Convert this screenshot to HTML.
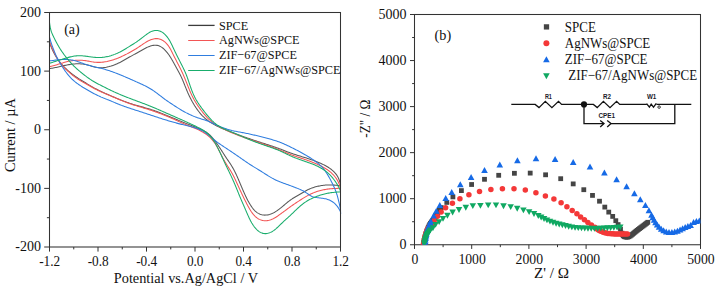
<!DOCTYPE html>
<html><head><meta charset="utf-8"><style>
html,body{margin:0;padding:0;background:#fff;}
svg{display:block;}
</style></head><body>
<svg width="721" height="288" viewBox="0 0 721 288">
<rect width="721" height="288" fill="#fff"/>
<clipPath id="ca"><rect x="49.5" y="12.5" width="291.6" height="234.5"/></clipPath>
<g clip-path="url(#ca)" fill="none" stroke-width="1.05" stroke-linejoin="round">
<path d="M49.41,68.67 L50.40,68.50 L51.38,68.33 L52.36,68.15 L53.34,67.97 L54.32,67.79 L55.30,67.60 L56.28,67.39 L57.25,67.18 L58.22,66.96 L59.20,66.74 L60.17,66.51 L61.14,66.28 L62.11,66.05 L63.08,65.81 L64.05,65.59 L65.03,65.37 L66.00,65.16 L66.98,64.96 L67.97,64.78 L68.95,64.61 L69.94,64.45 L70.93,64.31 L71.92,64.18 L72.91,64.07 L73.91,63.98 L74.90,63.90 L75.90,63.85 L76.90,63.81 L77.90,63.80 L78.89,63.81 L79.89,63.84 L80.88,63.90 L81.87,63.98 L82.86,64.09 L83.84,64.23 L84.82,64.40 L85.80,64.59 L86.77,64.81 L87.74,65.05 L88.70,65.31 L89.66,65.59 L90.62,65.87 L91.58,66.15 L92.54,66.43 L93.50,66.69 L94.46,66.93 L95.43,67.15 L96.41,67.33 L97.39,67.48 L98.37,67.59 L99.35,67.67 L100.34,67.72 L101.33,67.73 L102.31,67.70 L103.30,67.63 L104.29,67.53 L105.27,67.40 L106.25,67.24 L107.23,67.04 L108.20,66.82 L109.17,66.58 L110.14,66.31 L111.10,66.03 L112.05,65.72 L113.00,65.39 L113.94,65.05 L114.87,64.69 L115.80,64.31 L116.72,63.92 L117.64,63.51 L118.54,63.09 L119.44,62.66 L120.34,62.21 L121.22,61.74 L122.10,61.27 L122.97,60.79 L123.85,60.30 L124.71,59.81 L125.58,59.31 L126.44,58.81 L127.31,58.31 L128.17,57.82 L129.04,57.32 L129.91,56.83 L130.78,56.35 L131.65,55.86 L132.53,55.38 L133.40,54.90 L134.28,54.41 L135.16,53.93 L136.04,53.45 L136.92,52.96 L137.80,52.47 L138.69,51.98 L139.57,51.48 L140.46,50.98 L141.35,50.47 L142.23,49.97 L143.13,49.46 L144.02,48.96 L144.92,48.48 L145.82,48.01 L146.73,47.56 L147.64,47.14 L148.56,46.75 L149.48,46.39 L150.42,46.07 L151.36,45.79 L152.31,45.56 L153.26,45.39 L154.22,45.28 L155.18,45.24 L156.12,45.27 L157.06,45.38 L157.99,45.57 L158.89,45.83 L159.77,46.18 L160.63,46.60 L161.45,47.09 L162.25,47.64 L163.02,48.25 L163.77,48.91 L164.49,49.60 L165.19,50.32 L165.88,51.06 L166.54,51.83 L167.19,52.61 L167.81,53.41 L168.42,54.23 L169.01,55.05 L169.58,55.89 L170.13,56.73 L170.67,57.58 L171.20,58.44 L171.71,59.31 L172.22,60.17 L172.72,61.04 L173.22,61.92 L173.71,62.79 L174.19,63.67 L174.68,64.54 L175.16,65.42 L175.64,66.29 L176.12,67.17 L176.59,68.05 L177.07,68.92 L177.55,69.80 L178.02,70.68 L178.50,71.56 L178.97,72.43 L179.44,73.31 L179.90,74.20 L180.35,75.08 L180.80,75.98 L181.23,76.87 L181.65,77.77 L182.06,78.68 L182.46,79.60 L182.84,80.51 L183.22,81.44 L183.60,82.36 L183.97,83.29 L184.34,84.21 L184.70,85.14 L185.07,86.07 L185.44,87.00 L185.82,87.92 L186.19,88.85 L186.57,89.77 L186.96,90.69 L187.35,91.61 L187.74,92.53 L188.15,93.44 L188.56,94.35 L188.98,95.26 L189.41,96.16 L189.85,97.06 L190.29,97.95 L190.75,98.84 L191.21,99.72 L191.68,100.60 L192.16,101.48 L192.66,102.35 L193.16,103.21 L193.67,104.07 L194.19,104.92 L194.72,105.77 L195.27,106.61 L195.82,107.44 L196.38,108.27 L196.96,109.09 L197.54,109.90 L198.14,110.70 L198.75,111.49 L199.37,112.28 L200.00,113.05 L200.64,113.82 L201.30,114.57 L201.97,115.31 L202.66,116.03 L203.36,116.74 L204.08,117.43 L204.81,118.10 L205.56,118.76 L206.32,119.39 L207.10,120.01 L207.89,120.61 L208.70,121.20 L209.52,121.77 L210.35,122.32 L211.19,122.85 L212.04,123.37 L212.90,123.88 L213.76,124.37 L214.64,124.85 L215.52,125.32 L216.41,125.77 L217.31,126.22 L218.21,126.65 L219.11,127.08 L220.02,127.49 L220.94,127.90 L221.86,128.31 L222.78,128.70 L223.70,129.09 L224.62,129.48 L225.55,129.86 L226.48,130.24 L227.40,130.62 L228.33,130.99 L229.26,131.36 L230.19,131.72 L231.12,132.09 L232.05,132.45 L232.99,132.80 L233.92,133.16 L234.85,133.51 L235.79,133.86 L236.72,134.21 L237.66,134.55 L238.60,134.89 L239.53,135.23 L240.47,135.57 L241.41,135.91 L242.35,136.25 L243.29,136.58 L244.23,136.91 L245.17,137.24 L246.12,137.57 L247.06,137.90 L248.00,138.22 L248.95,138.55 L249.89,138.87 L250.84,139.19 L251.78,139.51 L252.73,139.83 L253.67,140.14 L254.62,140.46 L255.57,140.77 L256.52,141.09 L257.46,141.40 L258.41,141.71 L259.36,142.02 L260.31,142.33 L261.26,142.64 L262.21,142.95 L263.16,143.25 L264.11,143.56 L265.06,143.87 L266.01,144.17 L266.96,144.48 L267.91,144.79 L268.86,145.10 L269.81,145.41 L270.76,145.72 L271.70,146.04 L272.65,146.35 L273.60,146.67 L274.54,147.00 L275.48,147.32 L276.43,147.65 L277.37,147.98 L278.31,148.32 L279.24,148.66 L280.18,149.01 L281.11,149.36 L282.04,149.72 L282.97,150.08 L283.90,150.44 L284.83,150.81 L285.76,151.17 L286.69,151.54 L287.62,151.90 L288.55,152.25 L289.48,152.60 L290.42,152.95 L291.36,153.28 L292.30,153.61 L293.24,153.93 L294.19,154.24 L295.14,154.55 L296.09,154.86 L297.04,155.16 L297.99,155.46 L298.94,155.75 L299.90,156.05 L300.85,156.34 L301.81,156.63 L302.76,156.93 L303.72,157.22 L304.67,157.52 L305.62,157.82 L306.58,158.12 L307.53,158.43 L308.48,158.74 L309.42,159.06 L310.37,159.38 L311.31,159.71 L312.26,160.04 L313.20,160.38 L314.14,160.72 L315.07,161.08 L316.00,161.43 L316.94,161.80 L317.86,162.17 L318.79,162.56 L319.71,162.95 L320.63,163.34 L321.55,163.75 L322.46,164.17 L323.36,164.60 L324.26,165.05 L325.15,165.51 L326.03,165.98 L326.90,166.48 L327.76,167.00 L328.60,167.53 L329.43,168.10 L330.25,168.68 L331.05,169.28 L331.82,169.91 L332.58,170.56 L333.32,171.22 L334.03,171.91 L334.72,172.62 L335.38,173.35 L336.01,174.11 L336.60,174.89 L337.14,175.70 L337.64,176.53 L338.10,177.40 L338.51,178.28 L338.89,179.19 L339.24,180.11 L339.55,181.05 L339.85,182.00 L340.12,182.96 L340.38,183.92 L340.64,184.89" stroke="#585858"/>
<path d="M49.26,41.57 L49.57,42.51 L49.88,43.45 L50.21,44.38 L50.54,45.32 L50.90,46.25 L51.26,47.17 L51.64,48.09 L52.04,49.00 L52.44,49.91 L52.86,50.82 L53.29,51.72 L53.74,52.61 L54.20,53.50 L54.68,54.37 L55.17,55.24 L55.67,56.10 L56.19,56.95 L56.73,57.80 L57.28,58.63 L57.85,59.45 L58.43,60.26 L59.03,61.06 L59.65,61.84 L60.27,62.62 L60.91,63.39 L61.57,64.14 L62.23,64.89 L62.90,65.63 L63.59,66.35 L64.29,67.07 L64.99,67.78 L65.71,68.48 L66.43,69.17 L67.16,69.85 L67.90,70.52 L68.65,71.18 L69.41,71.83 L70.18,72.47 L70.95,73.10 L71.73,73.72 L72.52,74.33 L73.32,74.93 L74.12,75.53 L74.93,76.11 L75.75,76.68 L76.58,77.24 L77.41,77.80 L78.24,78.34 L79.08,78.88 L79.93,79.42 L80.77,79.95 L81.62,80.47 L82.48,80.99 L83.33,81.51 L84.19,82.03 L85.04,82.54 L85.90,83.06 L86.76,83.58 L87.61,84.09 L88.47,84.61 L89.32,85.13 L90.18,85.65 L91.03,86.16 L91.89,86.66 L92.76,87.16 L93.62,87.66 L94.50,88.14 L95.37,88.61 L96.26,89.08 L97.14,89.53 L98.03,89.98 L98.93,90.43 L99.82,90.86 L100.72,91.29 L101.63,91.72 L102.53,92.14 L103.44,92.55 L104.35,92.96 L105.27,93.37 L106.18,93.78 L107.10,94.18 L108.01,94.58 L108.93,94.98 L109.85,95.38 L110.77,95.77 L111.69,96.17 L112.60,96.57 L113.52,96.96 L114.44,97.35 L115.36,97.75 L116.28,98.14 L117.21,98.52 L118.13,98.91 L119.05,99.29 L119.98,99.66 L120.91,100.04 L121.83,100.41 L122.76,100.77 L123.69,101.13 L124.63,101.48 L125.56,101.83 L126.50,102.17 L127.44,102.51 L128.38,102.84 L129.32,103.16 L130.27,103.48 L131.22,103.79 L132.17,104.09 L133.12,104.38 L134.08,104.67 L135.04,104.95 L135.99,105.23 L136.95,105.51 L137.92,105.78 L138.88,106.05 L139.84,106.31 L140.80,106.58 L141.77,106.85 L142.73,107.11 L143.69,107.38 L144.66,107.65 L145.62,107.92 L146.58,108.19 L147.54,108.47 L148.49,108.75 L149.45,109.04 L150.40,109.34 L151.35,109.64 L152.30,109.95 L153.25,110.26 L154.19,110.58 L155.14,110.91 L156.08,111.25 L157.01,111.59 L157.95,111.94 L158.88,112.29 L159.82,112.65 L160.75,113.01 L161.68,113.38 L162.60,113.75 L163.53,114.12 L164.46,114.50 L165.38,114.87 L166.31,115.25 L167.23,115.64 L168.15,116.02 L169.07,116.40 L170.00,116.79 L170.92,117.17 L171.84,117.56 L172.76,117.94 L173.68,118.33 L174.60,118.71 L175.53,119.10 L176.45,119.48 L177.37,119.86 L178.29,120.24 L179.22,120.62 L180.14,121.00 L181.07,121.38 L181.99,121.76 L182.92,122.13 L183.84,122.51 L184.77,122.88 L185.70,123.25 L186.63,123.62 L187.56,123.98 L188.50,124.35 L189.43,124.72 L190.36,125.08 L191.29,125.45 L192.22,125.82 L193.15,126.19 L194.08,126.56 L195.01,126.94 L195.94,127.32 L196.87,127.71 L197.79,128.09 L198.71,128.49 L199.63,128.89 L200.54,129.29 L201.46,129.71 L202.36,130.13 L203.26,130.57 L204.14,131.03 L205.01,131.50 L205.86,132.00 L206.69,132.53 L207.49,133.09 L208.28,133.68 L209.03,134.30 L209.76,134.96 L210.47,135.64 L211.15,136.35 L211.82,137.08 L212.47,137.84 L213.11,138.61 L213.73,139.39 L214.34,140.19 L214.94,140.99 L215.54,141.80 L216.13,142.61 L216.72,143.43 L217.30,144.25 L217.88,145.07 L218.45,145.89 L219.02,146.72 L219.58,147.55 L220.14,148.38 L220.69,149.22 L221.24,150.05 L221.78,150.89 L222.32,151.73 L222.86,152.57 L223.40,153.42 L223.94,154.26 L224.48,155.10 L225.02,155.93 L225.57,156.77 L226.12,157.60 L226.68,158.43 L227.24,159.26 L227.80,160.08 L228.37,160.90 L228.93,161.73 L229.49,162.55 L230.04,163.38 L230.59,164.21 L231.13,165.05 L231.65,165.90 L232.16,166.75 L232.66,167.62 L233.15,168.48 L233.63,169.36 L234.10,170.24 L234.56,171.12 L235.01,172.01 L235.45,172.91 L235.88,173.81 L236.31,174.71 L236.72,175.62 L237.14,176.53 L237.54,177.44 L237.95,178.35 L238.34,179.27 L238.74,180.19 L239.13,181.11 L239.52,182.03 L239.91,182.95 L240.29,183.87 L240.68,184.79 L241.07,185.71 L241.46,186.63 L241.84,187.55 L242.23,188.47 L242.63,189.39 L243.02,190.31 L243.42,191.22 L243.83,192.14 L244.23,193.05 L244.65,193.97 L245.07,194.88 L245.49,195.79 L245.92,196.69 L246.36,197.60 L246.81,198.50 L247.27,199.40 L247.73,200.30 L248.21,201.19 L248.70,202.07 L249.20,202.95 L249.72,203.82 L250.25,204.68 L250.80,205.53 L251.37,206.37 L251.95,207.20 L252.55,208.02 L253.18,208.81 L253.83,209.58 L254.51,210.32 L255.21,211.03 L255.94,211.69 L256.70,212.31 L257.50,212.87 L258.33,213.37 L259.19,213.82 L260.08,214.20 L261.00,214.52 L261.93,214.77 L262.89,214.96 L263.85,215.07 L264.82,215.12 L265.80,215.10 L266.77,215.02 L267.74,214.88 L268.71,214.67 L269.67,214.42 L270.62,214.11 L271.55,213.75 L272.47,213.35 L273.37,212.91 L274.25,212.44 L275.13,211.93 L275.98,211.39 L276.83,210.83 L277.66,210.26 L278.48,209.66 L279.29,209.06 L280.09,208.44 L280.88,207.82 L281.67,207.18 L282.45,206.54 L283.22,205.90 L283.99,205.25 L284.75,204.60 L285.51,203.95 L286.28,203.31 L287.04,202.66 L287.81,202.03 L288.59,201.41 L289.37,200.80 L290.17,200.21 L290.98,199.64 L291.80,199.08 L292.63,198.54 L293.48,198.01 L294.33,197.50 L295.19,196.99 L296.05,196.49 L296.92,195.99 L297.78,195.50 L298.65,195.00 L299.52,194.50 L300.38,193.99 L301.24,193.48 L302.10,192.97 L302.96,192.46 L303.83,191.95 L304.69,191.45 L305.56,190.96 L306.43,190.48 L307.32,190.01 L308.21,189.57 L309.10,189.15 L310.02,188.75 L310.94,188.38 L311.87,188.03 L312.81,187.70 L313.75,187.39 L314.71,187.10 L315.67,186.83 L316.64,186.58 L317.61,186.35 L318.59,186.13 L319.57,185.93 L320.55,185.74 L321.54,185.58 L322.52,185.42 L323.51,185.29 L324.51,185.18 L325.50,185.08 L326.50,185.01 L327.49,184.96 L328.49,184.93 L329.48,184.91 L330.48,184.92 L331.48,184.95 L332.47,184.99 L333.47,185.06 L334.46,185.14 L335.46,185.24 L336.45,185.35 L337.44,185.48 L338.43,185.61 L339.42,185.75 L340.41,185.89" stroke="#585858"/>
<path d="M49.41,66.83 L50.37,66.57 L51.33,66.30 L52.29,66.03 L53.26,65.77 L54.22,65.50 L55.17,65.22 L56.13,64.94 L57.09,64.66 L58.04,64.37 L59.00,64.08 L59.95,63.79 L60.90,63.49 L61.85,63.20 L62.80,62.91 L63.75,62.62 L64.70,62.34 L65.65,62.06 L66.60,61.79 L67.55,61.54 L68.51,61.31 L69.47,61.10 L70.44,60.92 L71.42,60.76 L72.39,60.62 L73.38,60.51 L74.36,60.41 L75.35,60.34 L76.34,60.28 L77.33,60.24 L78.33,60.23 L79.32,60.23 L80.32,60.25 L81.31,60.29 L82.31,60.35 L83.30,60.43 L84.29,60.52 L85.28,60.64 L86.27,60.78 L87.26,60.94 L88.24,61.11 L89.22,61.30 L90.20,61.49 L91.17,61.67 L92.15,61.85 L93.13,62.00 L94.12,62.14 L95.10,62.24 L96.09,62.32 L97.08,62.37 L98.07,62.39 L99.06,62.39 L100.05,62.36 L101.04,62.30 L102.03,62.23 L103.02,62.12 L104.01,62.00 L105.00,61.85 L105.98,61.68 L106.96,61.50 L107.93,61.29 L108.91,61.06 L109.88,60.82 L110.84,60.56 L111.80,60.28 L112.76,59.99 L113.71,59.68 L114.65,59.36 L115.59,59.02 L116.53,58.67 L117.46,58.31 L118.38,57.93 L119.30,57.55 L120.22,57.15 L121.13,56.74 L122.03,56.32 L122.93,55.89 L123.83,55.45 L124.72,55.01 L125.61,54.55 L126.50,54.10 L127.38,53.63 L128.26,53.17 L129.14,52.70 L130.02,52.23 L130.90,51.75 L131.77,51.27 L132.64,50.78 L133.50,50.28 L134.36,49.77 L135.22,49.25 L136.07,48.73 L136.91,48.19 L137.76,47.64 L138.60,47.09 L139.44,46.52 L140.28,45.96 L141.12,45.38 L141.96,44.81 L142.81,44.23 L143.66,43.67 L144.51,43.11 L145.37,42.57 L146.24,42.04 L147.12,41.53 L148.00,41.05 L148.89,40.60 L149.80,40.19 L150.72,39.80 L151.65,39.46 L152.59,39.17 L153.54,38.93 L154.50,38.74 L155.46,38.63 L156.41,38.58 L157.36,38.61 L158.31,38.72 L159.24,38.91 L160.15,39.18 L161.04,39.53 L161.91,39.95 L162.76,40.43 L163.58,40.97 L164.37,41.57 L165.13,42.21 L165.85,42.89 L166.55,43.61 L167.21,44.36 L167.84,45.14 L168.45,45.94 L169.02,46.77 L169.56,47.62 L170.08,48.48 L170.57,49.36 L171.05,50.25 L171.51,51.14 L171.96,52.05 L172.40,52.95 L172.84,53.86 L173.28,54.76 L173.73,55.66 L174.18,56.56 L174.63,57.45 L175.09,58.34 L175.55,59.23 L176.02,60.12 L176.48,61.00 L176.94,61.89 L177.41,62.77 L177.87,63.65 L178.33,64.54 L178.78,65.42 L179.24,66.31 L179.69,67.20 L180.13,68.09 L180.57,68.99 L181.01,69.88 L181.44,70.78 L181.86,71.68 L182.28,72.59 L182.70,73.49 L183.10,74.40 L183.50,75.32 L183.90,76.23 L184.29,77.15 L184.68,78.07 L185.06,78.99 L185.44,79.91 L185.81,80.84 L186.19,81.76 L186.56,82.69 L186.92,83.62 L187.29,84.54 L187.66,85.47 L188.03,86.40 L188.40,87.32 L188.78,88.25 L189.15,89.17 L189.53,90.10 L189.92,91.02 L190.31,91.93 L190.71,92.85 L191.12,93.76 L191.54,94.67 L191.96,95.57 L192.40,96.46 L192.84,97.35 L193.30,98.24 L193.77,99.12 L194.25,99.99 L194.75,100.85 L195.26,101.70 L195.78,102.55 L196.32,103.40 L196.86,104.23 L197.41,105.06 L197.97,105.89 L198.54,106.71 L199.12,107.53 L199.70,108.34 L200.29,109.15 L200.88,109.95 L201.49,110.75 L202.09,111.55 L202.71,112.34 L203.33,113.12 L203.96,113.89 L204.61,114.66 L205.26,115.41 L205.92,116.15 L206.60,116.89 L207.28,117.61 L207.99,118.32 L208.70,119.01 L209.42,119.69 L210.16,120.35 L210.92,121.00 L211.68,121.63 L212.46,122.25 L213.26,122.85 L214.07,123.43 L214.88,123.99 L215.71,124.54 L216.55,125.08 L217.40,125.60 L218.26,126.11 L219.13,126.60 L220.01,127.09 L220.89,127.57 L221.77,128.03 L222.66,128.49 L223.56,128.94 L224.46,129.38 L225.36,129.81 L226.27,130.24 L227.17,130.66 L228.08,131.08 L229.00,131.49 L229.91,131.90 L230.82,132.30 L231.74,132.69 L232.66,133.08 L233.58,133.46 L234.50,133.84 L235.43,134.22 L236.36,134.59 L237.28,134.95 L238.21,135.31 L239.14,135.67 L240.08,136.03 L241.01,136.37 L241.95,136.72 L242.88,137.06 L243.82,137.40 L244.76,137.74 L245.70,138.07 L246.64,138.40 L247.58,138.73 L248.52,139.06 L249.47,139.38 L250.41,139.70 L251.35,140.02 L252.30,140.34 L253.24,140.66 L254.19,140.98 L255.13,141.30 L256.08,141.62 L257.03,141.93 L257.97,142.25 L258.92,142.57 L259.86,142.89 L260.81,143.21 L261.75,143.53 L262.70,143.85 L263.64,144.17 L264.59,144.49 L265.53,144.82 L266.47,145.15 L267.41,145.48 L268.35,145.81 L269.29,146.14 L270.23,146.48 L271.17,146.82 L272.11,147.16 L273.04,147.50 L273.98,147.85 L274.91,148.20 L275.85,148.55 L276.78,148.91 L277.71,149.27 L278.63,149.64 L279.56,150.00 L280.48,150.38 L281.41,150.75 L282.33,151.13 L283.25,151.52 L284.17,151.90 L285.09,152.29 L286.01,152.68 L286.93,153.06 L287.85,153.44 L288.77,153.81 L289.70,154.18 L290.63,154.54 L291.56,154.90 L292.49,155.24 L293.43,155.58 L294.37,155.91 L295.31,156.24 L296.25,156.57 L297.20,156.89 L298.14,157.21 L299.09,157.52 L300.03,157.84 L300.98,158.16 L301.92,158.47 L302.87,158.79 L303.82,159.11 L304.76,159.43 L305.70,159.76 L306.65,160.08 L307.59,160.42 L308.53,160.76 L309.46,161.10 L310.40,161.45 L311.33,161.81 L312.26,162.17 L313.19,162.54 L314.12,162.91 L315.04,163.30 L315.96,163.69 L316.88,164.09 L317.79,164.50 L318.71,164.92 L319.61,165.35 L320.52,165.79 L321.41,166.24 L322.30,166.71 L323.19,167.18 L324.06,167.67 L324.93,168.18 L325.78,168.70 L326.62,169.24 L327.45,169.80 L328.27,170.37 L329.07,170.97 L329.85,171.58 L330.62,172.22 L331.36,172.88 L332.09,173.56 L332.80,174.26 L333.48,174.98 L334.14,175.72 L334.77,176.48 L335.38,177.26 L335.96,178.06 L336.51,178.88 L337.04,179.72 L337.53,180.58 L337.99,181.45 L338.43,182.34 L338.83,183.25 L339.21,184.16 L339.57,185.09 L339.92,186.02 L340.26,186.96 L340.59,187.90" stroke="#f25555"/>
<path d="M49.26,40.57 L49.56,41.51 L49.88,42.45 L50.20,43.38 L50.54,44.31 L50.90,45.24 L51.27,46.16 L51.65,47.07 L52.05,47.98 L52.46,48.89 L52.88,49.80 L53.31,50.70 L53.75,51.60 L54.19,52.50 L54.63,53.39 L55.08,54.29 L55.54,55.18 L56.01,56.07 L56.48,56.95 L56.96,57.82 L57.46,58.69 L57.97,59.54 L58.50,60.39 L59.04,61.23 L59.59,62.05 L60.17,62.86 L60.76,63.66 L61.38,64.44 L62.01,65.21 L62.66,65.96 L63.33,66.69 L64.02,67.41 L64.72,68.12 L65.44,68.82 L66.16,69.51 L66.89,70.19 L67.62,70.87 L68.36,71.55 L69.10,72.22 L69.85,72.89 L70.60,73.55 L71.36,74.20 L72.12,74.84 L72.89,75.47 L73.68,76.09 L74.47,76.70 L75.27,77.29 L76.08,77.86 L76.90,78.43 L77.73,78.98 L78.57,79.51 L79.42,80.04 L80.27,80.56 L81.13,81.08 L81.99,81.58 L82.85,82.08 L83.72,82.58 L84.59,83.08 L85.46,83.57 L86.33,84.06 L87.20,84.56 L88.07,85.05 L88.94,85.55 L89.80,86.04 L90.67,86.54 L91.54,87.02 L92.42,87.51 L93.29,87.98 L94.18,88.45 L95.06,88.91 L95.95,89.36 L96.84,89.80 L97.74,90.24 L98.64,90.66 L99.55,91.09 L100.45,91.50 L101.36,91.91 L102.28,92.32 L103.19,92.72 L104.10,93.12 L105.02,93.52 L105.94,93.91 L106.86,94.31 L107.78,94.70 L108.70,95.09 L109.62,95.48 L110.54,95.87 L111.46,96.26 L112.38,96.65 L113.30,97.04 L114.22,97.43 L115.14,97.82 L116.06,98.21 L116.98,98.59 L117.91,98.98 L118.83,99.36 L119.75,99.74 L120.68,100.12 L121.60,100.49 L122.53,100.87 L123.46,101.23 L124.39,101.60 L125.32,101.96 L126.25,102.31 L127.19,102.66 L128.12,103.01 L129.06,103.35 L130.00,103.68 L130.94,104.01 L131.88,104.34 L132.83,104.65 L133.78,104.96 L134.73,105.27 L135.68,105.57 L136.63,105.87 L137.58,106.17 L138.54,106.47 L139.49,106.76 L140.45,107.05 L141.40,107.34 L142.36,107.62 L143.32,107.91 L144.27,108.20 L145.23,108.49 L146.18,108.78 L147.14,109.08 L148.09,109.37 L149.05,109.67 L150.00,109.97 L150.95,110.28 L151.90,110.59 L152.85,110.90 L153.79,111.22 L154.74,111.55 L155.68,111.88 L156.62,112.21 L157.56,112.55 L158.50,112.89 L159.43,113.24 L160.37,113.59 L161.30,113.95 L162.23,114.31 L163.16,114.68 L164.09,115.05 L165.01,115.42 L165.94,115.80 L166.86,116.19 L167.78,116.57 L168.70,116.96 L169.61,117.36 L170.53,117.76 L171.44,118.16 L172.35,118.57 L173.26,118.98 L174.17,119.39 L175.08,119.81 L175.99,120.22 L176.90,120.63 L177.81,121.05 L178.72,121.46 L179.63,121.87 L180.54,122.28 L181.45,122.68 L182.37,123.09 L183.28,123.48 L184.20,123.88 L185.12,124.26 L186.05,124.65 L186.98,125.02 L187.90,125.40 L188.83,125.77 L189.76,126.14 L190.69,126.51 L191.62,126.89 L192.55,127.26 L193.48,127.64 L194.40,128.03 L195.32,128.42 L196.24,128.82 L197.15,129.23 L198.06,129.64 L198.96,130.07 L199.85,130.51 L200.74,130.97 L201.63,131.44 L202.50,131.92 L203.36,132.43 L204.21,132.95 L205.05,133.49 L205.87,134.05 L206.68,134.63 L207.47,135.23 L208.24,135.86 L209.00,136.51 L209.73,137.18 L210.45,137.87 L211.14,138.58 L211.82,139.32 L212.47,140.07 L213.11,140.83 L213.72,141.62 L214.30,142.42 L214.87,143.24 L215.42,144.08 L215.95,144.92 L216.46,145.78 L216.96,146.65 L217.44,147.52 L217.92,148.40 L218.39,149.29 L218.85,150.18 L219.31,151.07 L219.76,151.96 L220.21,152.86 L220.66,153.75 L221.10,154.64 L221.56,155.54 L222.01,156.43 L222.47,157.31 L222.94,158.20 L223.42,159.07 L223.90,159.95 L224.39,160.82 L224.89,161.68 L225.40,162.54 L225.91,163.39 L226.43,164.24 L226.96,165.09 L227.49,165.94 L228.03,166.78 L228.57,167.61 L229.11,168.45 L229.65,169.29 L230.18,170.14 L230.71,170.98 L231.22,171.84 L231.72,172.70 L232.21,173.57 L232.69,174.44 L233.16,175.32 L233.61,176.20 L234.06,177.09 L234.51,177.99 L234.94,178.89 L235.37,179.79 L235.79,180.69 L236.21,181.60 L236.63,182.51 L237.05,183.42 L237.46,184.33 L237.87,185.24 L238.29,186.14 L238.70,187.05 L239.12,187.96 L239.53,188.87 L239.95,189.77 L240.37,190.68 L240.79,191.59 L241.21,192.49 L241.64,193.39 L242.06,194.30 L242.49,195.20 L242.92,196.10 L243.36,197.00 L243.80,197.90 L244.24,198.79 L244.68,199.69 L245.13,200.58 L245.58,201.47 L246.04,202.36 L246.50,203.25 L246.96,204.14 L247.44,205.03 L247.91,205.92 L248.40,206.81 L248.89,207.69 L249.40,208.57 L249.91,209.44 L250.44,210.30 L250.99,211.16 L251.55,212.01 L252.14,212.84 L252.74,213.65 L253.37,214.44 L254.03,215.20 L254.71,215.93 L255.42,216.62 L256.17,217.27 L256.95,217.88 L257.76,218.43 L258.60,218.94 L259.47,219.39 L260.36,219.78 L261.28,220.11 L262.21,220.37 L263.16,220.56 L264.12,220.68 L265.09,220.73 L266.06,220.71 L267.03,220.63 L268.01,220.48 L268.97,220.28 L269.93,220.02 L270.87,219.71 L271.80,219.36 L272.71,218.96 L273.61,218.51 L274.50,218.04 L275.37,217.53 L276.23,217.00 L277.08,216.44 L277.91,215.87 L278.73,215.28 L279.54,214.69 L280.36,214.09 L281.17,213.50 L281.98,212.91 L282.79,212.32 L283.60,211.73 L284.41,211.14 L285.21,210.55 L286.01,209.96 L286.82,209.36 L287.62,208.77 L288.42,208.18 L289.23,207.59 L290.03,207.00 L290.84,206.42 L291.66,205.84 L292.47,205.27 L293.29,204.70 L294.12,204.14 L294.95,203.58 L295.78,203.03 L296.61,202.48 L297.45,201.93 L298.29,201.39 L299.13,200.85 L299.97,200.30 L300.81,199.76 L301.65,199.22 L302.49,198.68 L303.34,198.15 L304.19,197.62 L305.04,197.10 L305.90,196.59 L306.76,196.09 L307.64,195.61 L308.51,195.13 L309.40,194.67 L310.29,194.23 L311.19,193.81 L312.10,193.40 L313.02,193.00 L313.95,192.63 L314.88,192.27 L315.81,191.92 L316.76,191.60 L317.71,191.29 L318.66,191.00 L319.62,190.73 L320.58,190.47 L321.55,190.23 L322.52,190.01 L323.50,189.80 L324.48,189.61 L325.46,189.44 L326.45,189.28 L327.44,189.14 L328.43,189.01 L329.42,188.89 L330.41,188.79 L331.41,188.70 L332.40,188.63 L333.40,188.56 L334.40,188.50 L335.39,188.45 L336.39,188.40 L337.39,188.36 L338.39,188.32 L339.39,188.29 L340.39,188.25" stroke="#f25555"/>
<path d="M49.40,60.97 L50.39,60.83 L51.38,60.69 L52.37,60.55 L53.36,60.41 L54.35,60.27 L55.34,60.14 L56.34,60.01 L57.33,59.89 L58.32,59.78 L59.32,59.68 L60.31,59.59 L61.31,59.52 L62.31,59.46 L63.31,59.43 L64.30,59.42 L65.30,59.42 L66.30,59.45 L67.29,59.51 L68.28,59.58 L69.28,59.68 L70.26,59.81 L71.25,59.96 L72.23,60.13 L73.20,60.33 L74.17,60.55 L75.14,60.79 L76.10,61.06 L77.05,61.35 L78.00,61.66 L78.95,61.98 L79.89,62.31 L80.83,62.64 L81.77,62.99 L82.72,63.33 L83.66,63.66 L84.60,64.00 L85.55,64.32 L86.50,64.63 L87.45,64.93 L88.41,65.22 L89.37,65.50 L90.33,65.77 L91.30,66.03 L92.26,66.28 L93.23,66.52 L94.20,66.76 L95.18,66.99 L96.15,67.22 L97.13,67.44 L98.10,67.66 L99.07,67.88 L100.05,68.11 L101.02,68.34 L101.99,68.58 L102.96,68.83 L103.92,69.09 L104.88,69.35 L105.84,69.63 L106.80,69.91 L107.75,70.21 L108.71,70.51 L109.65,70.83 L110.60,71.15 L111.54,71.48 L112.48,71.82 L113.42,72.17 L114.35,72.52 L115.28,72.88 L116.22,73.24 L117.14,73.61 L118.07,73.98 L119.00,74.36 L119.93,74.73 L120.85,75.11 L121.78,75.48 L122.70,75.86 L123.63,76.24 L124.55,76.63 L125.47,77.01 L126.39,77.40 L127.31,77.79 L128.23,78.19 L129.15,78.59 L130.06,78.99 L130.97,79.40 L131.89,79.81 L132.80,80.22 L133.71,80.63 L134.63,81.04 L135.54,81.45 L136.46,81.86 L137.37,82.27 L138.29,82.68 L139.20,83.09 L140.12,83.50 L141.03,83.91 L141.94,84.33 L142.84,84.76 L143.75,85.19 L144.65,85.62 L145.54,86.07 L146.43,86.52 L147.31,86.99 L148.19,87.46 L149.06,87.95 L149.92,88.44 L150.77,88.95 L151.62,89.48 L152.45,90.02 L153.28,90.57 L154.10,91.14 L154.91,91.71 L155.72,92.30 L156.52,92.89 L157.32,93.49 L158.11,94.10 L158.91,94.71 L159.70,95.32 L160.49,95.93 L161.28,96.54 L162.08,97.15 L162.87,97.76 L163.67,98.36 L164.47,98.96 L165.28,99.55 L166.10,100.13 L166.92,100.70 L167.74,101.27 L168.57,101.83 L169.39,102.39 L170.22,102.95 L171.06,103.50 L171.89,104.06 L172.72,104.61 L173.56,105.16 L174.39,105.71 L175.23,106.25 L176.07,106.79 L176.92,107.33 L177.76,107.86 L178.61,108.39 L179.47,108.91 L180.32,109.43 L181.18,109.94 L182.04,110.45 L182.91,110.94 L183.78,111.43 L184.66,111.92 L185.54,112.39 L186.42,112.86 L187.31,113.31 L188.20,113.76 L189.10,114.20 L190.00,114.63 L190.91,115.05 L191.82,115.46 L192.73,115.86 L193.65,116.25 L194.58,116.62 L195.51,116.99 L196.44,117.34 L197.38,117.68 L198.32,118.00 L199.27,118.32 L200.22,118.62 L201.17,118.91 L202.13,119.20 L203.08,119.49 L204.03,119.79 L204.98,120.10 L205.92,120.42 L206.85,120.76 L207.78,121.11 L208.71,121.48 L209.62,121.87 L210.54,122.27 L211.45,122.67 L212.36,123.08 L213.27,123.50 L214.18,123.92 L215.08,124.34 L215.99,124.76 L216.90,125.18 L217.82,125.58 L218.73,125.98 L219.65,126.38 L220.58,126.76 L221.51,127.14 L222.44,127.50 L223.37,127.86 L224.31,128.20 L225.25,128.53 L226.19,128.85 L227.14,129.16 L228.10,129.46 L229.05,129.74 L230.01,130.01 L230.98,130.26 L231.94,130.50 L232.92,130.72 L233.89,130.94 L234.87,131.15 L235.85,131.35 L236.83,131.54 L237.81,131.73 L238.79,131.92 L239.77,132.10 L240.76,132.28 L241.74,132.46 L242.73,132.64 L243.71,132.82 L244.69,133.01 L245.68,133.20 L246.66,133.40 L247.64,133.60 L248.61,133.80 L249.59,134.02 L250.57,134.23 L251.54,134.45 L252.52,134.67 L253.49,134.90 L254.46,135.13 L255.44,135.36 L256.41,135.59 L257.38,135.83 L258.35,136.06 L259.32,136.30 L260.30,136.54 L261.27,136.78 L262.24,137.02 L263.21,137.27 L264.18,137.51 L265.15,137.76 L266.12,138.01 L267.09,138.27 L268.06,138.52 L269.03,138.79 L269.99,139.05 L270.95,139.33 L271.91,139.61 L272.87,139.89 L273.83,140.18 L274.78,140.48 L275.73,140.79 L276.68,141.11 L277.62,141.43 L278.56,141.77 L279.50,142.11 L280.43,142.46 L281.36,142.83 L282.28,143.21 L283.20,143.59 L284.12,143.99 L285.03,144.40 L285.94,144.81 L286.84,145.23 L287.75,145.66 L288.65,146.09 L289.55,146.53 L290.45,146.97 L291.34,147.41 L292.24,147.85 L293.13,148.30 L294.03,148.75 L294.92,149.21 L295.81,149.66 L296.69,150.12 L297.58,150.58 L298.47,151.05 L299.35,151.52 L300.23,151.99 L301.11,152.47 L301.99,152.95 L302.86,153.43 L303.74,153.92 L304.61,154.42 L305.48,154.92 L306.34,155.42 L307.20,155.93 L308.06,156.45 L308.91,156.97 L309.76,157.50 L310.61,158.04 L311.45,158.59 L312.28,159.14 L313.11,159.71 L313.94,160.28 L314.75,160.86 L315.56,161.46 L316.36,162.06 L317.15,162.68 L317.92,163.31 L318.68,163.95 L319.43,164.61 L320.16,165.29 L320.88,165.98 L321.58,166.69 L322.26,167.41 L322.91,168.16 L323.55,168.92 L324.17,169.70 L324.77,170.49 L325.36,171.30 L325.93,172.12 L326.48,172.95 L327.03,173.79 L327.56,174.64 L328.07,175.50 L328.58,176.36 L329.08,177.23 L329.57,178.11 L330.05,178.99 L330.53,179.87 L330.99,180.76 L331.45,181.65 L331.90,182.55 L332.34,183.44 L332.78,184.35 L333.21,185.25 L333.63,186.16 L334.05,187.07 L334.45,187.98 L334.85,188.90 L335.23,189.82 L335.60,190.75 L335.95,191.68 L336.29,192.62 L336.61,193.56 L336.91,194.51 L337.20,195.47 L337.48,196.42 L337.74,197.39 L338.00,198.35 L338.24,199.32 L338.48,200.29 L338.71,201.27 L338.94,202.24 L339.16,203.22 L339.39,204.19 L339.61,205.16 L339.82,206.14 L340.04,207.12 L340.24,208.09 L340.44,209.07 L340.62,210.05 L340.80,211.03 L340.96,212.02 L341.13,213.00 L341.29,213.98" stroke="#2f7ddf"/>
<path d="M49.30,36.04 L49.53,37.01 L49.77,37.97 L50.02,38.93 L50.28,39.89 L50.55,40.84 L50.84,41.79 L51.14,42.74 L51.45,43.68 L51.78,44.63 L52.11,45.56 L52.45,46.50 L52.80,47.44 L53.15,48.37 L53.50,49.30 L53.86,50.24 L54.23,51.17 L54.60,52.09 L54.98,53.01 L55.37,53.93 L55.77,54.84 L56.18,55.75 L56.61,56.65 L57.05,57.54 L57.51,58.42 L57.98,59.30 L58.46,60.18 L58.95,61.05 L59.44,61.91 L59.94,62.78 L60.45,63.64 L60.96,64.49 L61.48,65.35 L62.01,66.20 L62.54,67.04 L63.08,67.89 L63.62,68.72 L64.18,69.56 L64.74,70.38 L65.31,71.20 L65.90,72.01 L66.49,72.81 L67.10,73.61 L67.72,74.39 L68.35,75.16 L69.00,75.92 L69.66,76.66 L70.33,77.40 L71.02,78.11 L71.72,78.82 L72.44,79.50 L73.18,80.17 L73.93,80.83 L74.69,81.47 L75.46,82.10 L76.25,82.71 L77.05,83.31 L77.85,83.90 L78.67,84.48 L79.49,85.05 L80.32,85.60 L81.15,86.15 L81.99,86.69 L82.83,87.23 L83.68,87.75 L84.54,88.27 L85.40,88.79 L86.26,89.30 L87.12,89.81 L87.98,90.31 L88.85,90.81 L89.72,91.30 L90.59,91.79 L91.46,92.27 L92.34,92.75 L93.22,93.22 L94.10,93.68 L94.99,94.14 L95.88,94.59 L96.77,95.03 L97.67,95.47 L98.57,95.89 L99.48,96.31 L100.39,96.72 L101.30,97.12 L102.22,97.50 L103.14,97.89 L104.06,98.26 L104.99,98.63 L105.91,99.00 L106.84,99.37 L107.77,99.74 L108.70,100.11 L109.62,100.48 L110.54,100.86 L111.47,101.24 L112.39,101.62 L113.31,102.00 L114.23,102.39 L115.15,102.77 L116.07,103.16 L116.99,103.53 L117.92,103.91 L118.84,104.28 L119.77,104.65 L120.70,105.02 L121.63,105.38 L122.56,105.73 L123.50,106.08 L124.43,106.42 L125.37,106.75 L126.31,107.07 L127.26,107.39 L128.20,107.71 L129.15,108.02 L130.10,108.33 L131.05,108.64 L132.00,108.95 L132.94,109.26 L133.89,109.57 L134.84,109.88 L135.79,110.19 L136.74,110.50 L137.69,110.81 L138.63,111.12 L139.58,111.43 L140.53,111.74 L141.48,112.05 L142.43,112.36 L143.37,112.67 L144.32,112.98 L145.27,113.29 L146.22,113.60 L147.17,113.91 L148.11,114.23 L149.06,114.54 L150.01,114.85 L150.96,115.16 L151.91,115.48 L152.85,115.79 L153.80,116.10 L154.75,116.41 L155.70,116.73 L156.64,117.04 L157.59,117.35 L158.54,117.66 L159.49,117.97 L160.44,118.27 L161.39,118.58 L162.34,118.88 L163.29,119.19 L164.24,119.49 L165.19,119.78 L166.15,120.08 L167.10,120.37 L168.05,120.66 L169.01,120.95 L169.96,121.23 L170.92,121.51 L171.88,121.79 L172.84,122.06 L173.80,122.33 L174.76,122.60 L175.72,122.86 L176.69,123.12 L177.65,123.38 L178.61,123.63 L179.58,123.88 L180.55,124.13 L181.52,124.37 L182.49,124.61 L183.46,124.85 L184.43,125.08 L185.40,125.32 L186.38,125.55 L187.35,125.77 L188.33,126.00 L189.30,126.24 L190.27,126.48 L191.24,126.72 L192.20,126.97 L193.17,127.24 L194.12,127.51 L195.08,127.80 L196.02,128.11 L196.96,128.44 L197.89,128.78 L198.82,129.15 L199.73,129.54 L200.62,129.96 L201.51,130.40 L202.38,130.87 L203.25,131.36 L204.10,131.87 L204.93,132.41 L205.76,132.97 L206.57,133.54 L207.38,134.13 L208.17,134.74 L208.95,135.36 L209.72,135.99 L210.48,136.63 L211.24,137.28 L212.00,137.93 L212.76,138.58 L213.52,139.23 L214.28,139.87 L215.06,140.50 L215.84,141.12 L216.63,141.72 L217.43,142.31 L218.24,142.90 L219.05,143.47 L219.87,144.04 L220.69,144.60 L221.52,145.16 L222.35,145.71 L223.18,146.27 L224.01,146.82 L224.84,147.37 L225.67,147.92 L226.50,148.47 L227.34,149.02 L228.17,149.58 L229.00,150.13 L229.83,150.68 L230.66,151.24 L231.48,151.80 L232.31,152.36 L233.14,152.92 L233.96,153.48 L234.79,154.04 L235.61,154.60 L236.43,155.17 L237.25,155.73 L238.08,156.30 L238.90,156.87 L239.72,157.44 L240.54,158.00 L241.35,158.58 L242.17,159.15 L242.99,159.72 L243.81,160.29 L244.63,160.85 L245.45,161.42 L246.27,161.98 L247.10,162.54 L247.93,163.10 L248.76,163.65 L249.59,164.19 L250.43,164.74 L251.27,165.27 L252.12,165.80 L252.96,166.33 L253.81,166.85 L254.66,167.37 L255.52,167.88 L256.37,168.40 L257.22,168.92 L258.08,169.44 L258.93,169.96 L259.78,170.48 L260.63,171.01 L261.48,171.54 L262.32,172.08 L263.16,172.62 L264.00,173.16 L264.85,173.70 L265.69,174.24 L266.53,174.78 L267.38,175.31 L268.22,175.84 L269.07,176.36 L269.93,176.87 L270.78,177.38 L271.65,177.88 L272.52,178.36 L273.39,178.83 L274.27,179.29 L275.16,179.73 L276.06,180.16 L276.96,180.57 L277.88,180.96 L278.79,181.35 L279.72,181.72 L280.64,182.09 L281.57,182.44 L282.51,182.80 L283.44,183.14 L284.38,183.49 L285.32,183.83 L286.26,184.16 L287.20,184.50 L288.14,184.84 L289.08,185.18 L290.02,185.52 L290.96,185.87 L291.90,186.22 L292.84,186.57 L293.77,186.92 L294.71,187.28 L295.64,187.64 L296.57,188.01 L297.50,188.38 L298.43,188.75 L299.35,189.13 L300.26,189.52 L301.17,189.93 L302.07,190.36 L302.95,190.80 L303.82,191.27 L304.67,191.77 L305.50,192.29 L306.32,192.83 L307.13,193.39 L307.92,193.96 L308.71,194.52 L309.51,195.07 L310.32,195.57 L311.16,196.03 L312.01,196.44 L312.89,196.77 L313.80,197.05 L314.74,197.27 L315.69,197.45 L316.66,197.60 L317.64,197.72 L318.64,197.83 L319.63,197.94 L320.63,198.05 L321.63,198.18 L322.63,198.31 L323.63,198.47 L324.62,198.65 L325.60,198.86 L326.57,199.11 L327.52,199.40 L328.46,199.72 L329.38,200.09 L330.28,200.51 L331.16,200.96 L332.01,201.45 L332.83,201.99 L333.62,202.57 L334.38,203.19 L335.10,203.86 L335.80,204.56 L336.45,205.29 L337.08,206.06 L337.67,206.85 L338.23,207.67 L338.75,208.51 L339.25,209.37 L339.73,210.25 L340.18,211.14 L340.61,212.05 L341.03,212.95 L341.44,213.87" stroke="#2f7ddf"/>
<path d="M49.40,63.30 L50.35,62.99 L51.30,62.69 L52.25,62.39 L53.20,62.08 L54.15,61.78 L55.10,61.48 L56.05,61.17 L57.00,60.87 L57.96,60.57 L58.91,60.27 L59.86,59.97 L60.82,59.68 L61.77,59.38 L62.73,59.09 L63.69,58.80 L64.64,58.51 L65.60,58.22 L66.56,57.93 L67.52,57.65 L68.48,57.38 L69.44,57.12 L70.41,56.87 L71.38,56.64 L72.34,56.43 L73.32,56.24 L74.29,56.08 L75.27,55.96 L76.25,55.86 L77.24,55.79 L78.23,55.76 L79.22,55.75 L80.21,55.76 L81.20,55.79 L82.20,55.85 L83.20,55.92 L84.19,56.02 L85.19,56.12 L86.18,56.24 L87.18,56.37 L88.17,56.51 L89.16,56.66 L90.15,56.80 L91.15,56.94 L92.14,57.07 L93.13,57.19 L94.12,57.30 L95.12,57.38 L96.11,57.45 L97.11,57.49 L98.11,57.51 L99.10,57.51 L100.10,57.49 L101.09,57.44 L102.08,57.37 L103.07,57.27 L104.06,57.15 L105.04,57.00 L106.02,56.83 L107.00,56.64 L107.97,56.42 L108.94,56.19 L109.91,55.93 L110.87,55.66 L111.82,55.36 L112.77,55.05 L113.71,54.72 L114.65,54.37 L115.57,54.00 L116.49,53.62 L117.41,53.22 L118.31,52.80 L119.21,52.36 L120.10,51.91 L120.98,51.45 L121.86,50.97 L122.73,50.48 L123.59,49.98 L124.45,49.47 L125.31,48.96 L126.16,48.44 L127.01,47.91 L127.86,47.39 L128.72,46.87 L129.57,46.35 L130.42,45.82 L131.27,45.30 L132.11,44.78 L132.96,44.25 L133.80,43.71 L134.64,43.17 L135.47,42.62 L136.30,42.07 L137.12,41.50 L137.94,40.93 L138.76,40.34 L139.56,39.75 L140.37,39.15 L141.17,38.54 L141.97,37.92 L142.76,37.29 L143.56,36.67 L144.36,36.05 L145.17,35.43 L145.98,34.82 L146.80,34.22 L147.63,33.64 L148.47,33.08 L149.33,32.56 L150.20,32.07 L151.09,31.64 L151.99,31.26 L152.91,30.95 L153.85,30.70 L154.79,30.53 L155.73,30.43 L156.68,30.43 L157.62,30.50 L158.54,30.67 L159.46,30.91 L160.34,31.25 L161.21,31.66 L162.04,32.14 L162.85,32.69 L163.63,33.29 L164.38,33.94 L165.11,34.63 L165.80,35.35 L166.47,36.10 L167.11,36.89 L167.72,37.69 L168.31,38.52 L168.87,39.37 L169.40,40.23 L169.91,41.10 L170.40,41.99 L170.87,42.88 L171.32,43.78 L171.76,44.69 L172.20,45.60 L172.62,46.51 L173.05,47.42 L173.47,48.33 L173.89,49.24 L174.32,50.15 L174.75,51.05 L175.19,51.95 L175.62,52.85 L176.06,53.75 L176.50,54.65 L176.94,55.54 L177.38,56.43 L177.83,57.32 L178.28,58.21 L178.73,59.10 L179.18,59.99 L179.64,60.88 L180.09,61.77 L180.55,62.66 L181.00,63.55 L181.45,64.44 L181.90,65.32 L182.36,66.21 L182.80,67.11 L183.24,68.00 L183.68,68.90 L184.11,69.80 L184.53,70.70 L184.95,71.60 L185.35,72.52 L185.74,73.43 L186.12,74.35 L186.48,75.28 L186.84,76.21 L187.18,77.15 L187.52,78.08 L187.85,79.02 L188.18,79.97 L188.50,80.91 L188.82,81.86 L189.13,82.81 L189.45,83.76 L189.76,84.70 L190.08,85.65 L190.41,86.59 L190.74,87.54 L191.07,88.48 L191.42,89.42 L191.77,90.35 L192.13,91.28 L192.51,92.21 L192.89,93.13 L193.29,94.04 L193.69,94.95 L194.12,95.85 L194.55,96.75 L195.00,97.64 L195.46,98.52 L195.94,99.39 L196.44,100.25 L196.95,101.11 L197.47,101.96 L198.00,102.80 L198.55,103.63 L199.11,104.46 L199.67,105.28 L200.25,106.10 L200.83,106.91 L201.42,107.72 L202.02,108.52 L202.62,109.32 L203.22,110.12 L203.83,110.91 L204.45,111.70 L205.07,112.49 L205.69,113.27 L206.32,114.05 L206.95,114.82 L207.59,115.59 L208.23,116.36 L208.88,117.12 L209.53,117.88 L210.20,118.62 L210.87,119.36 L211.55,120.08 L212.25,120.79 L212.97,121.48 L213.70,122.15 L214.45,122.80 L215.22,123.43 L216.00,124.04 L216.80,124.64 L217.61,125.21 L218.44,125.76 L219.28,126.30 L220.13,126.81 L220.99,127.31 L221.86,127.78 L222.75,128.24 L223.64,128.68 L224.54,129.10 L225.45,129.51 L226.36,129.91 L227.28,130.31 L228.21,130.69 L229.13,131.07 L230.06,131.45 L230.99,131.82 L231.92,132.20 L232.85,132.57 L233.77,132.95 L234.69,133.34 L235.62,133.73 L236.54,134.12 L237.45,134.51 L238.37,134.91 L239.29,135.30 L240.20,135.70 L241.12,136.10 L242.03,136.50 L242.95,136.89 L243.86,137.29 L244.78,137.68 L245.70,138.07 L246.62,138.46 L247.54,138.85 L248.46,139.23 L249.38,139.61 L250.30,139.98 L251.23,140.35 L252.16,140.72 L253.08,141.09 L254.01,141.45 L254.95,141.81 L255.88,142.16 L256.81,142.51 L257.75,142.86 L258.68,143.21 L259.62,143.54 L260.56,143.88 L261.51,144.21 L262.45,144.54 L263.39,144.86 L264.34,145.19 L265.29,145.51 L266.23,145.83 L267.18,146.15 L268.13,146.47 L269.07,146.79 L270.02,147.11 L270.96,147.44 L271.90,147.77 L272.84,148.11 L273.78,148.44 L274.72,148.79 L275.65,149.14 L276.58,149.50 L277.50,149.86 L278.43,150.23 L279.35,150.62 L280.26,151.01 L281.17,151.41 L282.08,151.82 L282.98,152.25 L283.88,152.68 L284.77,153.12 L285.66,153.56 L286.56,154.00 L287.45,154.44 L288.35,154.87 L289.25,155.30 L290.15,155.72 L291.06,156.13 L291.97,156.52 L292.89,156.91 L293.81,157.29 L294.73,157.66 L295.66,158.03 L296.59,158.38 L297.53,158.73 L298.46,159.08 L299.40,159.42 L300.34,159.75 L301.28,160.08 L302.23,160.41 L303.17,160.74 L304.12,161.07 L305.06,161.39 L306.01,161.72 L306.95,162.05 L307.90,162.38 L308.84,162.71 L309.78,163.05 L310.72,163.40 L311.65,163.75 L312.59,164.11 L313.52,164.48 L314.44,164.86 L315.36,165.26 L316.28,165.67 L317.19,166.09 L318.09,166.52 L318.98,166.97 L319.87,167.44 L320.74,167.92 L321.61,168.42 L322.46,168.94 L323.30,169.47 L324.13,170.03 L324.94,170.60 L325.74,171.19 L326.53,171.81 L327.29,172.44 L328.04,173.10 L328.77,173.78 L329.48,174.47 L330.18,175.18 L330.87,175.91 L331.53,176.65 L332.19,177.41 L332.83,178.18 L333.45,178.96 L334.06,179.75 L334.66,180.55 L335.24,181.36 L335.80,182.18 L336.35,183.01 L336.88,183.85 L337.39,184.71 L337.88,185.57 L338.35,186.45 L338.80,187.34 L339.24,188.23 L339.67,189.13 L340.10,190.03 L340.52,190.93" stroke="#19ad6c"/>
<path d="M49.45,22.04 L49.58,23.03 L49.71,24.02 L49.85,25.00 L50.01,25.99 L50.18,26.97 L50.37,27.94 L50.59,28.91 L50.83,29.87 L51.11,30.82 L51.42,31.76 L51.76,32.69 L52.13,33.61 L52.52,34.52 L52.93,35.43 L53.36,36.34 L53.79,37.24 L54.23,38.14 L54.68,39.03 L55.13,39.93 L55.58,40.82 L56.04,41.71 L56.51,42.60 L56.98,43.48 L57.47,44.36 L57.96,45.23 L58.46,46.10 L58.97,46.96 L59.49,47.81 L60.02,48.66 L60.56,49.50 L61.11,50.34 L61.67,51.17 L62.23,51.99 L62.80,52.81 L63.38,53.63 L63.97,54.44 L64.56,55.24 L65.16,56.04 L65.77,56.84 L66.39,57.63 L67.01,58.41 L67.64,59.18 L68.28,59.95 L68.93,60.71 L69.59,61.46 L70.25,62.21 L70.92,62.95 L71.60,63.69 L72.29,64.41 L72.98,65.13 L73.68,65.84 L74.39,66.54 L75.11,67.24 L75.84,67.92 L76.58,68.60 L77.32,69.26 L78.07,69.92 L78.83,70.58 L79.60,71.22 L80.36,71.86 L81.14,72.50 L81.92,73.13 L82.70,73.75 L83.48,74.37 L84.27,74.99 L85.07,75.60 L85.86,76.20 L86.66,76.80 L87.47,77.39 L88.28,77.98 L89.10,78.55 L89.92,79.12 L90.74,79.68 L91.58,80.23 L92.42,80.77 L93.27,81.29 L94.12,81.80 L94.99,82.30 L95.86,82.78 L96.74,83.26 L97.62,83.72 L98.51,84.18 L99.40,84.63 L100.30,85.08 L101.19,85.53 L102.09,85.98 L102.98,86.43 L103.87,86.88 L104.76,87.33 L105.66,87.78 L106.55,88.23 L107.44,88.68 L108.34,89.13 L109.23,89.57 L110.13,90.01 L111.03,90.44 L111.93,90.87 L112.84,91.30 L113.75,91.71 L114.66,92.13 L115.57,92.54 L116.48,92.94 L117.40,93.34 L118.32,93.74 L119.24,94.13 L120.16,94.52 L121.08,94.90 L122.01,95.28 L122.93,95.66 L123.86,96.04 L124.79,96.41 L125.72,96.78 L126.65,97.14 L127.58,97.51 L128.51,97.87 L129.44,98.23 L130.38,98.59 L131.31,98.94 L132.25,99.29 L133.19,99.65 L134.12,100.00 L135.06,100.35 L136.00,100.70 L136.93,101.05 L137.87,101.40 L138.81,101.74 L139.74,102.09 L140.68,102.44 L141.62,102.80 L142.55,103.15 L143.49,103.50 L144.42,103.86 L145.35,104.21 L146.29,104.57 L147.22,104.94 L148.15,105.30 L149.08,105.67 L150.01,106.04 L150.93,106.41 L151.86,106.79 L152.78,107.17 L153.70,107.56 L154.62,107.95 L155.54,108.34 L156.46,108.74 L157.38,109.13 L158.30,109.53 L159.21,109.93 L160.13,110.33 L161.04,110.73 L161.96,111.14 L162.87,111.54 L163.79,111.94 L164.70,112.35 L165.62,112.75 L166.53,113.15 L167.45,113.55 L168.36,113.95 L169.28,114.35 L170.20,114.75 L171.11,115.15 L172.03,115.55 L172.95,115.95 L173.86,116.35 L174.78,116.75 L175.69,117.15 L176.61,117.55 L177.52,117.96 L178.44,118.36 L179.35,118.76 L180.27,119.17 L181.18,119.57 L182.10,119.98 L183.01,120.39 L183.92,120.79 L184.83,121.20 L185.74,121.62 L186.65,122.03 L187.56,122.45 L188.47,122.86 L189.38,123.28 L190.29,123.70 L191.19,124.13 L192.10,124.55 L193.01,124.98 L193.91,125.41 L194.82,125.84 L195.72,126.28 L196.62,126.72 L197.52,127.16 L198.42,127.61 L199.31,128.07 L200.20,128.54 L201.08,129.02 L201.95,129.51 L202.82,130.01 L203.67,130.53 L204.50,131.08 L205.32,131.64 L206.12,132.23 L206.89,132.84 L207.64,133.49 L208.37,134.16 L209.08,134.85 L209.77,135.57 L210.43,136.31 L211.08,137.07 L211.70,137.85 L212.30,138.64 L212.89,139.45 L213.45,140.28 L214.00,141.11 L214.54,141.96 L215.05,142.82 L215.56,143.68 L216.05,144.56 L216.53,145.44 L217.00,146.32 L217.47,147.21 L217.92,148.11 L218.36,149.00 L218.80,149.90 L219.24,150.81 L219.66,151.71 L220.09,152.62 L220.51,153.53 L220.92,154.44 L221.34,155.35 L221.75,156.26 L222.17,157.17 L222.58,158.08 L222.99,158.99 L223.41,159.90 L223.82,160.81 L224.24,161.72 L224.66,162.63 L225.08,163.53 L225.51,164.44 L225.94,165.34 L226.37,166.24 L226.81,167.14 L227.25,168.04 L227.69,168.93 L228.13,169.83 L228.57,170.73 L229.01,171.63 L229.45,172.53 L229.88,173.43 L230.31,174.33 L230.74,175.23 L231.17,176.13 L231.59,177.04 L232.01,177.95 L232.43,178.85 L232.84,179.76 L233.25,180.68 L233.66,181.59 L234.06,182.51 L234.46,183.42 L234.85,184.34 L235.24,185.26 L235.62,186.19 L236.00,187.11 L236.38,188.04 L236.76,188.96 L237.13,189.89 L237.51,190.82 L237.88,191.74 L238.25,192.67 L238.63,193.60 L239.00,194.52 L239.38,195.45 L239.76,196.37 L240.14,197.29 L240.53,198.22 L240.92,199.13 L241.32,200.05 L241.71,200.97 L242.11,201.89 L242.51,202.80 L242.92,203.72 L243.32,204.63 L243.72,205.55 L244.12,206.46 L244.52,207.38 L244.91,208.30 L245.31,209.22 L245.70,210.14 L246.09,211.06 L246.48,211.98 L246.88,212.90 L247.28,213.82 L247.68,214.74 L248.09,215.66 L248.51,216.58 L248.93,217.49 L249.37,218.41 L249.81,219.32 L250.27,220.23 L250.75,221.13 L251.24,222.02 L251.74,222.90 L252.27,223.77 L252.81,224.63 L253.38,225.48 L253.97,226.31 L254.58,227.12 L255.22,227.91 L255.88,228.68 L256.57,229.42 L257.29,230.12 L258.04,230.77 L258.82,231.38 L259.62,231.92 L260.46,232.40 L261.32,232.80 L262.22,233.13 L263.13,233.38 L264.05,233.55 L264.99,233.63 L265.93,233.62 L266.87,233.53 L267.81,233.35 L268.74,233.10 L269.66,232.78 L270.56,232.39 L271.45,231.95 L272.32,231.46 L273.17,230.92 L273.99,230.34 L274.79,229.73 L275.58,229.09 L276.35,228.43 L277.11,227.74 L277.86,227.04 L278.60,226.34 L279.33,225.62 L280.06,224.91 L280.80,224.21 L281.53,223.50 L282.26,222.80 L282.99,222.11 L283.72,221.42 L284.46,220.73 L285.19,220.05 L285.93,219.38 L286.68,218.71 L287.42,218.03 L288.16,217.36 L288.90,216.69 L289.63,216.02 L290.37,215.34 L291.09,214.66 L291.82,213.97 L292.54,213.27 L293.26,212.58 L293.98,211.88 L294.70,211.19 L295.42,210.49 L296.14,209.80 L296.86,209.11 L297.60,208.43 L298.33,207.75 L299.08,207.08 L299.83,206.42 L300.59,205.77 L301.35,205.12 L302.13,204.49 L302.91,203.88 L303.71,203.28 L304.52,202.69 L305.34,202.12 L306.17,201.57 L307.01,201.04 L307.87,200.53 L308.73,200.04 L309.61,199.57 L310.50,199.11 L311.40,198.66 L312.30,198.24 L313.21,197.82 L314.13,197.43 L315.05,197.04 L315.98,196.67 L316.92,196.31 L317.86,195.96 L318.80,195.63 L319.75,195.31 L320.70,195.00 L321.66,194.71 L322.62,194.44 L323.59,194.18 L324.56,193.93 L325.53,193.70 L326.51,193.49 L327.49,193.29 L328.47,193.11 L329.45,192.94 L330.44,192.78 L331.43,192.64 L332.42,192.52 L333.41,192.40 L334.41,192.30 L335.40,192.21 L336.40,192.12 L337.40,192.05 L338.39,191.97 L339.39,191.90 L340.39,191.83" stroke="#19ad6c"/>
</g>
<rect x="49.5" y="12.5" width="291" height="234.5" fill="none" stroke="#333" stroke-width="1.05"/>
<line x1="49.5" y1="247" x2="49.5" y2="251.6" stroke="#333" stroke-width="1.0"/>
<text transform="translate(49.7,266.1) scale(0.95,1)" font-size="14" text-anchor="middle" fill="#111" font-family='"Liberation Serif", serif' >-1.2</text>
<line x1="73.75" y1="247" x2="73.75" y2="249.4" stroke="#333" stroke-width="1.0"/>
<line x1="98" y1="247" x2="98" y2="251.6" stroke="#333" stroke-width="1.0"/>
<text transform="translate(98.2,266.1) scale(0.95,1)" font-size="14" text-anchor="middle" fill="#111" font-family='"Liberation Serif", serif' >-0.8</text>
<line x1="122.25" y1="247" x2="122.25" y2="249.4" stroke="#333" stroke-width="1.0"/>
<line x1="146.5" y1="247" x2="146.5" y2="251.6" stroke="#333" stroke-width="1.0"/>
<text transform="translate(146.7,266.1) scale(0.95,1)" font-size="14" text-anchor="middle" fill="#111" font-family='"Liberation Serif", serif' >-0.4</text>
<line x1="170.75" y1="247" x2="170.75" y2="249.4" stroke="#333" stroke-width="1.0"/>
<line x1="195" y1="247" x2="195" y2="251.6" stroke="#333" stroke-width="1.0"/>
<text transform="translate(195.2,266.1) scale(0.95,1)" font-size="14" text-anchor="middle" fill="#111" font-family='"Liberation Serif", serif' >0.0</text>
<line x1="219.25" y1="247" x2="219.25" y2="249.4" stroke="#333" stroke-width="1.0"/>
<line x1="243.5" y1="247" x2="243.5" y2="251.6" stroke="#333" stroke-width="1.0"/>
<text transform="translate(243.7,266.1) scale(0.95,1)" font-size="14" text-anchor="middle" fill="#111" font-family='"Liberation Serif", serif' >0.4</text>
<line x1="267.75" y1="247" x2="267.75" y2="249.4" stroke="#333" stroke-width="1.0"/>
<line x1="292" y1="247" x2="292" y2="251.6" stroke="#333" stroke-width="1.0"/>
<text transform="translate(292.2,266.1) scale(0.95,1)" font-size="14" text-anchor="middle" fill="#111" font-family='"Liberation Serif", serif' >0.8</text>
<line x1="316.25" y1="247" x2="316.25" y2="249.4" stroke="#333" stroke-width="1.0"/>
<line x1="340.5" y1="247" x2="340.5" y2="251.6" stroke="#333" stroke-width="1.0"/>
<text transform="translate(340.7,266.1) scale(0.95,1)" font-size="14" text-anchor="middle" fill="#111" font-family='"Liberation Serif", serif' >1.2</text>
<line x1="44.2" y1="247" x2="49.5" y2="247" stroke="#333" stroke-width="1.0"/>
<text x="41" y="251.4" font-size="14" text-anchor="end" fill="#111" font-family='"Liberation Serif", serif' >-200</text>
<line x1="46.9" y1="217.69" x2="49.5" y2="217.69" stroke="#333" stroke-width="1.0"/>
<line x1="44.2" y1="188.38" x2="49.5" y2="188.38" stroke="#333" stroke-width="1.0"/>
<text x="41" y="192.78" font-size="14" text-anchor="end" fill="#111" font-family='"Liberation Serif", serif' >-100</text>
<line x1="46.9" y1="159.06" x2="49.5" y2="159.06" stroke="#333" stroke-width="1.0"/>
<line x1="44.2" y1="129.75" x2="49.5" y2="129.75" stroke="#333" stroke-width="1.0"/>
<text x="41" y="134.15" font-size="14" text-anchor="end" fill="#111" font-family='"Liberation Serif", serif' >0</text>
<line x1="46.9" y1="100.44" x2="49.5" y2="100.44" stroke="#333" stroke-width="1.0"/>
<line x1="44.2" y1="71.12" x2="49.5" y2="71.12" stroke="#333" stroke-width="1.0"/>
<text x="41" y="75.53" font-size="14" text-anchor="end" fill="#111" font-family='"Liberation Serif", serif' >100</text>
<line x1="46.9" y1="41.81" x2="49.5" y2="41.81" stroke="#333" stroke-width="1.0"/>
<line x1="44.2" y1="12.5" x2="49.5" y2="12.5" stroke="#333" stroke-width="1.0"/>
<text x="41" y="16.9" font-size="14" text-anchor="end" fill="#111" font-family='"Liberation Serif", serif' >200</text>
<text x="185.9" y="283" font-size="14" text-anchor="middle" fill="#111" font-family='"Liberation Serif", serif' textLength="144.2" lengthAdjust="spacingAndGlyphs" >Potential vs.Ag/AgCl / V</text>
<text transform="translate(15.1,135.1) rotate(-90)" font-size="14" text-anchor="middle" fill="#111" font-family='"Liberation Serif", serif' textLength="73.8" lengthAdjust="spacingAndGlyphs">Current / µA</text>
<text x="64.2" y="33.6" font-size="14" text-anchor="start" fill="#111" font-family='"Liberation Serif", serif' textLength="15.6" lengthAdjust="spacingAndGlyphs" >(a)</text>
<line x1="188.2" y1="25.4" x2="214.6" y2="25.4" stroke="#3c3c3c" stroke-width="1.3"/>
<text transform="translate(219,29.55) scale(0.913,1)" font-size="13.4" text-anchor="start" fill="#111" font-family='"Liberation Serif", serif' >SPCE</text>
<line x1="188.2" y1="40.5" x2="214.6" y2="40.5" stroke="#f25555" stroke-width="1.0"/>
<text transform="translate(219,44.48) scale(0.913,1)" font-size="13.4" text-anchor="start" fill="#111" font-family='"Liberation Serif", serif' >AgNWs@SPCE</text>
<line x1="188.2" y1="55.5" x2="214.6" y2="55.5" stroke="#2f7ddf" stroke-width="1.0"/>
<text transform="translate(219,59.41) scale(0.913,1)" font-size="13.4" text-anchor="start" fill="#111" font-family='"Liberation Serif", serif' >ZIF&#8722;67@SPCE</text>
<line x1="188.2" y1="70.5" x2="214.6" y2="70.5" stroke="#19ad6c" stroke-width="1.0"/>
<text transform="translate(219,74.34) scale(0.913,1)" font-size="13.4" text-anchor="start" fill="#111" font-family='"Liberation Serif", serif' >ZIF&#8722;67/AgNWs@SPCE</text>
<clipPath id="cb"><rect x="414.5" y="9.5" width="286.0" height="235.25"/></clipPath>
<rect x="414.5" y="14.5" width="286" height="230.25" fill="none" stroke="#333" stroke-width="1.05"/>
<line x1="414.5" y1="244.75" x2="414.5" y2="248.95" stroke="#333" stroke-width="1.0"/>
<text transform="translate(414.9,264) scale(0.98,1)" font-size="14" text-anchor="middle" fill="#111" font-family='"Liberation Serif", serif' >0</text>
<line x1="443.1" y1="244.75" x2="443.1" y2="247.15" stroke="#333" stroke-width="1.0"/>
<line x1="471.7" y1="244.75" x2="471.7" y2="248.95" stroke="#333" stroke-width="1.0"/>
<text transform="translate(472.1,264) scale(0.98,1)" font-size="14" text-anchor="middle" fill="#111" font-family='"Liberation Serif", serif' >1000</text>
<line x1="500.3" y1="244.75" x2="500.3" y2="247.15" stroke="#333" stroke-width="1.0"/>
<line x1="528.9" y1="244.75" x2="528.9" y2="248.95" stroke="#333" stroke-width="1.0"/>
<text transform="translate(529.3,264) scale(0.98,1)" font-size="14" text-anchor="middle" fill="#111" font-family='"Liberation Serif", serif' >2000</text>
<line x1="557.5" y1="244.75" x2="557.5" y2="247.15" stroke="#333" stroke-width="1.0"/>
<line x1="586.1" y1="244.75" x2="586.1" y2="248.95" stroke="#333" stroke-width="1.0"/>
<text transform="translate(586.5,264) scale(0.98,1)" font-size="14" text-anchor="middle" fill="#111" font-family='"Liberation Serif", serif' >3000</text>
<line x1="614.7" y1="244.75" x2="614.7" y2="247.15" stroke="#333" stroke-width="1.0"/>
<line x1="643.3" y1="244.75" x2="643.3" y2="248.95" stroke="#333" stroke-width="1.0"/>
<text transform="translate(643.7,264) scale(0.98,1)" font-size="14" text-anchor="middle" fill="#111" font-family='"Liberation Serif", serif' >4000</text>
<line x1="671.9" y1="244.75" x2="671.9" y2="247.15" stroke="#333" stroke-width="1.0"/>
<line x1="700.5" y1="244.75" x2="700.5" y2="248.95" stroke="#333" stroke-width="1.0"/>
<text transform="translate(700.9,264) scale(0.98,1)" font-size="14" text-anchor="middle" fill="#111" font-family='"Liberation Serif", serif' >5000</text>
<line x1="410" y1="244.75" x2="414.5" y2="244.75" stroke="#333" stroke-width="1.0"/>
<text x="406.6" y="249.05" font-size="14" text-anchor="end" fill="#111" font-family='"Liberation Serif", serif' >0</text>
<line x1="412.1" y1="221.72" x2="414.5" y2="221.72" stroke="#333" stroke-width="1.0"/>
<line x1="410" y1="198.7" x2="414.5" y2="198.7" stroke="#333" stroke-width="1.0"/>
<text x="406.6" y="203" font-size="14" text-anchor="end" fill="#111" font-family='"Liberation Serif", serif' >1000</text>
<line x1="412.1" y1="175.68" x2="414.5" y2="175.68" stroke="#333" stroke-width="1.0"/>
<line x1="410" y1="152.65" x2="414.5" y2="152.65" stroke="#333" stroke-width="1.0"/>
<text x="406.6" y="156.95" font-size="14" text-anchor="end" fill="#111" font-family='"Liberation Serif", serif' >2000</text>
<line x1="412.1" y1="129.62" x2="414.5" y2="129.62" stroke="#333" stroke-width="1.0"/>
<line x1="410" y1="106.6" x2="414.5" y2="106.6" stroke="#333" stroke-width="1.0"/>
<text x="406.6" y="110.9" font-size="14" text-anchor="end" fill="#111" font-family='"Liberation Serif", serif' >3000</text>
<line x1="412.1" y1="83.57" x2="414.5" y2="83.57" stroke="#333" stroke-width="1.0"/>
<line x1="410" y1="60.55" x2="414.5" y2="60.55" stroke="#333" stroke-width="1.0"/>
<text x="406.6" y="64.85" font-size="14" text-anchor="end" fill="#111" font-family='"Liberation Serif", serif' >4000</text>
<line x1="412.1" y1="37.53" x2="414.5" y2="37.53" stroke="#333" stroke-width="1.0"/>
<line x1="410" y1="14.5" x2="414.5" y2="14.5" stroke="#333" stroke-width="1.0"/>
<text x="406.6" y="18.8" font-size="14" text-anchor="end" fill="#111" font-family='"Liberation Serif", serif' >5000</text>
<text x="551.5" y="277.6" font-size="15" text-anchor="middle" fill="#111" font-family='"Liberation Serif", serif' textLength="35" lengthAdjust="spacingAndGlyphs" >Z' / Ω</text>
<text transform="translate(369.6,118.75) rotate(-90)" font-size="14" text-anchor="middle" fill="#111" font-family='"Liberation Serif", serif' textLength="38" lengthAdjust="spacingAndGlyphs">-Z" / Ω</text>
<text x="434.6" y="39.8" font-size="14" text-anchor="start" fill="#111" font-family='"Liberation Serif", serif' textLength="16.6" lengthAdjust="spacingAndGlyphs" >(b)</text>
<g clip-path="url(#cb)">
<rect x="421.4" y="241.9" width="4.8" height="4.8" fill="#454545"/>
<rect x="421.62" y="240.33" width="4.8" height="4.8" fill="#454545"/>
<rect x="421.88" y="238.76" width="4.8" height="4.8" fill="#454545"/>
<rect x="422.18" y="237.21" width="4.8" height="4.8" fill="#454545"/>
<rect x="422.51" y="235.66" width="4.8" height="4.8" fill="#454545"/>
<rect x="422.87" y="234.11" width="4.8" height="4.8" fill="#454545"/>
<rect x="423.26" y="232.58" width="4.8" height="4.8" fill="#454545"/>
<rect x="423.69" y="231.05" width="4.8" height="4.8" fill="#454545"/>
<rect x="424.16" y="229.53" width="4.8" height="4.8" fill="#454545"/>
<rect x="424.68" y="228.04" width="4.8" height="4.8" fill="#454545"/>
<rect x="425.25" y="226.56" width="4.8" height="4.8" fill="#454545"/>
<rect x="425.87" y="225.1" width="4.8" height="4.8" fill="#454545"/>
<rect x="426.54" y="223.66" width="4.8" height="4.8" fill="#454545"/>
<rect x="427.27" y="222.24" width="4.8" height="4.8" fill="#454545"/>
<rect x="428.08" y="220.88" width="4.8" height="4.8" fill="#454545"/>
<rect x="428.98" y="219.58" width="4.8" height="4.8" fill="#454545"/>
<rect x="429.98" y="218.35" width="4.8" height="4.8" fill="#454545"/>
<rect x="431.02" y="217.15" width="4.8" height="4.8" fill="#454545"/>
<rect x="432.03" y="215.92" width="4.8" height="4.8" fill="#454545"/>
<rect x="432.96" y="214.65" width="4.8" height="4.8" fill="#454545"/>
<rect x="433.82" y="213.31" width="4.8" height="4.8" fill="#454545"/>
<rect x="434.63" y="211.95" width="4.8" height="4.8" fill="#454545"/>
<rect x="435.42" y="210.57" width="4.8" height="4.8" fill="#454545"/>
<rect x="436.2" y="209.18" width="4.8" height="4.8" fill="#454545"/>
<rect x="437.01" y="207.81" width="4.8" height="4.8" fill="#454545"/>
<rect x="437.87" y="206.48" width="4.8" height="4.8" fill="#454545"/>
<rect x="438.8" y="205.2" width="4.8" height="4.8" fill="#454545"/>
<rect x="444.4" y="200" width="4.8" height="4.8" fill="#454545"/>
<rect x="450.5" y="194.5" width="4.8" height="4.8" fill="#454545"/>
<rect x="459" y="188.2" width="4.8" height="4.8" fill="#454545"/>
<rect x="469.2" y="182.1" width="4.8" height="4.8" fill="#454545"/>
<rect x="482.1" y="176.9" width="4.8" height="4.8" fill="#454545"/>
<rect x="496.3" y="172.9" width="4.8" height="4.8" fill="#454545"/>
<rect x="512" y="170.9" width="4.8" height="4.8" fill="#454545"/>
<rect x="527.8" y="170.7" width="4.8" height="4.8" fill="#454545"/>
<rect x="543.2" y="172.4" width="4.8" height="4.8" fill="#454545"/>
<rect x="558.3" y="176.3" width="4.8" height="4.8" fill="#454545"/>
<rect x="570.8" y="181.5" width="4.8" height="4.8" fill="#454545"/>
<rect x="581.4" y="187.3" width="4.8" height="4.8" fill="#454545"/>
<rect x="590.1" y="193" width="4.8" height="4.8" fill="#454545"/>
<rect x="597.1" y="198.8" width="4.8" height="4.8" fill="#454545"/>
<rect x="602.4" y="204.7" width="4.8" height="4.8" fill="#454545"/>
<rect x="606.35" y="209.7" width="4.8" height="4.8" fill="#454545"/>
<rect x="610.3" y="214" width="4.8" height="4.8" fill="#454545"/>
<rect x="613.4" y="218.3" width="4.8" height="4.8" fill="#454545"/>
<rect x="615.7" y="222.2" width="4.8" height="4.8" fill="#454545"/>
<rect x="618.1" y="226.85" width="4.8" height="4.8" fill="#454545"/>
<rect x="619.6" y="230.8" width="4.8" height="4.8" fill="#454545"/>
<rect x="619.99" y="232.3" width="4.8" height="4.8" fill="#454545"/>
<rect x="620.88" y="233.48" width="4.8" height="4.8" fill="#454545"/>
<rect x="622.12" y="234.3" width="4.8" height="4.8" fill="#454545"/>
<rect x="623.56" y="234.74" width="4.8" height="4.8" fill="#454545"/>
<rect x="625.06" y="234.76" width="4.8" height="4.8" fill="#454545"/>
<rect x="626.48" y="234.33" width="4.8" height="4.8" fill="#454545"/>
<rect x="627.78" y="233.58" width="4.8" height="4.8" fill="#454545"/>
<rect x="628.99" y="232.71" width="4.8" height="4.8" fill="#454545"/>
<rect x="630.15" y="231.78" width="4.8" height="4.8" fill="#454545"/>
<rect x="631.29" y="230.82" width="4.8" height="4.8" fill="#454545"/>
<rect x="632.43" y="229.87" width="4.8" height="4.8" fill="#454545"/>
<rect x="633.58" y="228.92" width="4.8" height="4.8" fill="#454545"/>
<rect x="634.74" y="227.99" width="4.8" height="4.8" fill="#454545"/>
<rect x="635.91" y="227.08" width="4.8" height="4.8" fill="#454545"/>
<rect x="637.1" y="226.18" width="4.8" height="4.8" fill="#454545"/>
<rect x="638.28" y="225.29" width="4.8" height="4.8" fill="#454545"/>
<rect x="639.47" y="224.39" width="4.8" height="4.8" fill="#454545"/>
<rect x="640.67" y="223.5" width="4.8" height="4.8" fill="#454545"/>
<rect x="641.85" y="222.61" width="4.8" height="4.8" fill="#454545"/>
<rect x="643.04" y="221.71" width="4.8" height="4.8" fill="#454545"/>
<rect x="644.22" y="220.81" width="4.8" height="4.8" fill="#454545"/>
<rect x="645.4" y="219.9" width="4.8" height="4.8" fill="#454545"/>
<circle cx="423.4" cy="244.3" r="2.75" fill="#f43838"/>
<circle cx="423.64" cy="242.78" r="2.75" fill="#f43838"/>
<circle cx="423.92" cy="241.28" r="2.75" fill="#f43838"/>
<circle cx="424.25" cy="239.78" r="2.75" fill="#f43838"/>
<circle cx="424.61" cy="238.29" r="2.75" fill="#f43838"/>
<circle cx="424.99" cy="236.81" r="2.75" fill="#f43838"/>
<circle cx="425.38" cy="235.32" r="2.75" fill="#f43838"/>
<circle cx="425.8" cy="233.85" r="2.75" fill="#f43838"/>
<circle cx="426.27" cy="232.39" r="2.75" fill="#f43838"/>
<circle cx="426.82" cy="230.96" r="2.75" fill="#f43838"/>
<circle cx="427.47" cy="229.57" r="2.75" fill="#f43838"/>
<circle cx="428.23" cy="228.23" r="2.75" fill="#f43838"/>
<circle cx="429.08" cy="226.95" r="2.75" fill="#f43838"/>
<circle cx="430.05" cy="225.76" r="2.75" fill="#f43838"/>
<circle cx="431.15" cy="224.7" r="2.75" fill="#f43838"/>
<circle cx="432.4" cy="223.8" r="2.75" fill="#f43838"/>
<circle cx="434.5" cy="220" r="2.75" fill="#f43838"/>
<circle cx="437.5" cy="216.2" r="2.75" fill="#f43838"/>
<circle cx="441.2" cy="212" r="2.75" fill="#f43838"/>
<circle cx="445.6" cy="207.8" r="2.75" fill="#f43838"/>
<circle cx="452.4" cy="203.2" r="2.75" fill="#f43838"/>
<circle cx="459.9" cy="198.8" r="2.75" fill="#f43838"/>
<circle cx="468.9" cy="194.7" r="2.75" fill="#f43838"/>
<circle cx="479.5" cy="191.5" r="2.75" fill="#f43838"/>
<circle cx="490.9" cy="189.4" r="2.75" fill="#f43838"/>
<circle cx="502.4" cy="188.8" r="2.75" fill="#f43838"/>
<circle cx="514" cy="188.8" r="2.75" fill="#f43838"/>
<circle cx="525.3" cy="190.1" r="2.75" fill="#f43838"/>
<circle cx="535.9" cy="192.7" r="2.75" fill="#f43838"/>
<circle cx="545.4" cy="195.9" r="2.75" fill="#f43838"/>
<circle cx="553.9" cy="199.1" r="2.75" fill="#f43838"/>
<circle cx="561.1" cy="202.8" r="2.75" fill="#f43838"/>
<circle cx="566.9" cy="206.7" r="2.75" fill="#f43838"/>
<circle cx="572.2" cy="210.4" r="2.75" fill="#f43838"/>
<circle cx="576.9" cy="213.8" r="2.75" fill="#f43838"/>
<circle cx="580.6" cy="216.9" r="2.75" fill="#f43838"/>
<circle cx="584.4" cy="219.8" r="2.75" fill="#f43838"/>
<circle cx="587.9" cy="222.4" r="2.75" fill="#f43838"/>
<circle cx="591.4" cy="224.9" r="2.75" fill="#f43838"/>
<circle cx="594.8" cy="227.3" r="2.75" fill="#f43838"/>
<circle cx="596.04" cy="228.37" r="2.75" fill="#f43838"/>
<circle cx="597.36" cy="229.32" r="2.75" fill="#f43838"/>
<circle cx="598.76" cy="230.16" r="2.75" fill="#f43838"/>
<circle cx="600.21" cy="230.92" r="2.75" fill="#f43838"/>
<circle cx="601.7" cy="231.58" r="2.75" fill="#f43838"/>
<circle cx="603.22" cy="232.17" r="2.75" fill="#f43838"/>
<circle cx="604.77" cy="232.68" r="2.75" fill="#f43838"/>
<circle cx="606.35" cy="233.08" r="2.75" fill="#f43838"/>
<circle cx="607.95" cy="233.38" r="2.75" fill="#f43838"/>
<circle cx="609.57" cy="233.6" r="2.75" fill="#f43838"/>
<circle cx="611.2" cy="233.75" r="2.75" fill="#f43838"/>
<circle cx="612.83" cy="233.87" r="2.75" fill="#f43838"/>
<circle cx="614.46" cy="233.95" r="2.75" fill="#f43838"/>
<circle cx="616.09" cy="234.02" r="2.75" fill="#f43838"/>
<circle cx="617.72" cy="234.07" r="2.75" fill="#f43838"/>
<circle cx="619.35" cy="234.1" r="2.75" fill="#f43838"/>
<circle cx="620.98" cy="234.1" r="2.75" fill="#f43838"/>
<circle cx="622.61" cy="234.09" r="2.75" fill="#f43838"/>
<circle cx="624.24" cy="234.05" r="2.75" fill="#f43838"/>
<circle cx="625.87" cy="233.99" r="2.75" fill="#f43838"/>
<circle cx="627.5" cy="233.9" r="2.75" fill="#f43838"/>
<path d="M421.5,247 L428.1,247 L424.8,241 Z" fill="#166ae6"/>
<path d="M421.65,245.52 L428.25,245.52 L424.95,239.52 Z" fill="#166ae6"/>
<path d="M421.83,244.04 L428.43,244.04 L425.13,238.04 Z" fill="#166ae6"/>
<path d="M422.02,242.56 L428.62,242.56 L425.32,236.56 Z" fill="#166ae6"/>
<path d="M422.23,241.09 L428.83,241.09 L425.53,235.09 Z" fill="#166ae6"/>
<path d="M422.45,239.61 L429.05,239.61 L425.75,233.61 Z" fill="#166ae6"/>
<path d="M422.69,238.14 L429.29,238.14 L425.99,232.14 Z" fill="#166ae6"/>
<path d="M422.95,236.68 L429.55,236.68 L426.25,230.68 Z" fill="#166ae6"/>
<path d="M423.25,235.22 L429.85,235.22 L426.55,229.22 Z" fill="#166ae6"/>
<path d="M423.62,233.77 L430.22,233.77 L426.92,227.77 Z" fill="#166ae6"/>
<path d="M424.06,232.35 L430.66,232.35 L427.36,226.35 Z" fill="#166ae6"/>
<path d="M424.59,230.96 L431.19,230.96 L427.89,224.96 Z" fill="#166ae6"/>
<path d="M425.19,229.59 L431.79,229.59 L428.49,223.59 Z" fill="#166ae6"/>
<path d="M425.82,228.24 L432.42,228.24 L429.12,222.24 Z" fill="#166ae6"/>
<path d="M426.44,226.89 L433.04,226.89 L429.74,220.89 Z" fill="#166ae6"/>
<path d="M427.01,225.51 L433.61,225.51 L430.31,219.51 Z" fill="#166ae6"/>
<path d="M427.5,224.1 L434.1,224.1 L430.8,218.1 Z" fill="#166ae6"/>
<path d="M430.3,218.5 L436.9,218.5 L433.6,212.5 Z" fill="#166ae6"/>
<path d="M433,213.7 L439.6,213.7 L436.3,207.7 Z" fill="#166ae6"/>
<path d="M436.5,208.1 L443.1,208.1 L439.8,202.1 Z" fill="#166ae6"/>
<path d="M442.4,201.1 L449,201.1 L445.7,195.1 Z" fill="#166ae6"/>
<path d="M448.4,195 L455,195 L451.7,189 Z" fill="#166ae6"/>
<path d="M457,187.3 L463.6,187.3 L460.3,181.3 Z" fill="#166ae6"/>
<path d="M467.8,179.9 L474.4,179.9 L471.1,173.9 Z" fill="#166ae6"/>
<path d="M481.2,173.1 L487.8,173.1 L484.5,167.1 Z" fill="#166ae6"/>
<path d="M496.5,167.5 L503.1,167.5 L499.8,161.5 Z" fill="#166ae6"/>
<path d="M514.1,163.3 L520.7,163.3 L517.4,157.3 Z" fill="#166ae6"/>
<path d="M532.7,161.3 L539.3,161.3 L536,155.3 Z" fill="#166ae6"/>
<path d="M551.8,162.1 L558.4,162.1 L555.1,156.1 Z" fill="#166ae6"/>
<path d="M569.9,165.1 L576.5,165.1 L573.2,159.1 Z" fill="#166ae6"/>
<path d="M586.7,169.5 L593.3,169.5 L590,163.5 Z" fill="#166ae6"/>
<path d="M601.1,175.4 L607.7,175.4 L604.4,169.4 Z" fill="#166ae6"/>
<path d="M613.3,182.3 L619.9,182.3 L616.6,176.3 Z" fill="#166ae6"/>
<path d="M623.3,189.3 L629.9,189.3 L626.6,183.3 Z" fill="#166ae6"/>
<path d="M631.1,196.2 L637.7,196.2 L634.4,190.2 Z" fill="#166ae6"/>
<path d="M637,202.3 L643.6,202.3 L640.3,196.3 Z" fill="#166ae6"/>
<path d="M642.1,208 L648.7,208 L645.4,202 Z" fill="#166ae6"/>
<path d="M645.6,213.2 L652.2,213.2 L648.9,207.2 Z" fill="#166ae6"/>
<path d="M648.2,217.7 L654.8,217.7 L651.5,211.7 Z" fill="#166ae6"/>
<path d="M649.47,220.26 L656.07,220.26 L652.77,214.26 Z" fill="#166ae6"/>
<path d="M650.78,222.8 L657.38,222.8 L654.08,216.8 Z" fill="#166ae6"/>
<path d="M652.22,225.27 L658.82,225.27 L655.52,219.27 Z" fill="#166ae6"/>
<path d="M653.87,227.61 L660.47,227.61 L657.17,221.61 Z" fill="#166ae6"/>
<path d="M655.76,229.76 L662.36,229.76 L659.06,223.76 Z" fill="#166ae6"/>
<path d="M657.91,231.67 L664.51,231.67 L661.21,225.67 Z" fill="#166ae6"/>
<path d="M660.3,233.25 L666.9,233.25 L663.6,227.25 Z" fill="#166ae6"/>
<path d="M662.94,234.4 L669.54,234.4 L666.24,228.4 Z" fill="#166ae6"/>
<path d="M665.73,235.02 L672.33,235.02 L669.03,229.02 Z" fill="#166ae6"/>
<path d="M668.6,235.04 L675.2,235.04 L671.9,229.04 Z" fill="#166ae6"/>
<path d="M671.43,234.55 L678.03,234.55 L674.73,228.55 Z" fill="#166ae6"/>
<path d="M674.16,233.69 L680.76,233.69 L677.46,227.69 Z" fill="#166ae6"/>
<path d="M676.78,232.52 L683.38,232.52 L680.08,226.52 Z" fill="#166ae6"/>
<path d="M679.32,231.21 L685.92,231.21 L682.62,225.21 Z" fill="#166ae6"/>
<path d="M681.9,230 L688.5,230 L685.2,224 Z" fill="#166ae6"/>
<path d="M684.59,229 L691.19,229 L687.89,223 Z" fill="#166ae6"/>
<path d="M687.3,228.1 L693.9,228.1 L690.6,222.1 Z" fill="#166ae6"/>
<path d="M690.3,224.9 L696.9,224.9 L693.6,218.9 Z" fill="#166ae6"/>
<path d="M693.1,224.1 L699.7,224.1 L696.4,218.1 Z" fill="#166ae6"/>
<path d="M696,223.4 L702.6,223.4 L699.3,217.4 Z" fill="#166ae6"/>
<path d="M421.05,241.35 L427.55,241.35 L424.3,247.25 Z" fill="#10a862"/>
<path d="M421.25,239.97 L427.75,239.97 L424.5,245.87 Z" fill="#10a862"/>
<path d="M421.52,238.61 L428.02,238.61 L424.77,244.51 Z" fill="#10a862"/>
<path d="M421.85,237.26 L428.35,237.26 L425.1,243.16 Z" fill="#10a862"/>
<path d="M422.25,235.93 L428.75,235.93 L425.5,241.83 Z" fill="#10a862"/>
<path d="M422.71,234.62 L429.21,234.62 L425.96,240.52 Z" fill="#10a862"/>
<path d="M423.23,233.33 L429.73,233.33 L426.48,239.23 Z" fill="#10a862"/>
<path d="M423.84,232.08 L430.34,232.08 L427.09,237.98 Z" fill="#10a862"/>
<path d="M424.55,230.88 L431.05,230.88 L427.8,236.78 Z" fill="#10a862"/>
<path d="M425.33,229.73 L431.83,229.73 L428.58,235.63 Z" fill="#10a862"/>
<path d="M426.17,228.63 L432.67,228.63 L429.42,234.53 Z" fill="#10a862"/>
<path d="M427.05,227.55 L433.55,227.55 L430.3,233.45 Z" fill="#10a862"/>
<path d="M429.65,225.35 L436.15,225.35 L432.9,231.25 Z" fill="#10a862"/>
<path d="M432.35,221.95 L438.85,221.95 L435.6,227.85 Z" fill="#10a862"/>
<path d="M435.85,219.15 L442.35,219.15 L439.1,225.05 Z" fill="#10a862"/>
<path d="M439.75,215.95 L446.25,215.95 L443,221.85 Z" fill="#10a862"/>
<path d="M444.15,212.85 L450.65,212.85 L447.4,218.75 Z" fill="#10a862"/>
<path d="M449.35,209.55 L455.85,209.55 L452.6,215.45 Z" fill="#10a862"/>
<path d="M455.75,207.05 L462.25,207.05 L459,212.95 Z" fill="#10a862"/>
<path d="M462.55,204.85 L469.05,204.85 L465.8,210.75 Z" fill="#10a862"/>
<path d="M469.55,203.15 L476.05,203.15 L472.8,209.05 Z" fill="#10a862"/>
<path d="M477.15,202.95 L483.65,202.95 L480.4,208.85 Z" fill="#10a862"/>
<path d="M484.95,202.45 L491.45,202.45 L488.2,208.35 Z" fill="#10a862"/>
<path d="M492.75,202.45 L499.25,202.45 L496,208.35 Z" fill="#10a862"/>
<path d="M500.25,203.35 L506.75,203.35 L503.5,209.25 Z" fill="#10a862"/>
<path d="M507.45,204.15 L513.95,204.15 L510.7,210.05 Z" fill="#10a862"/>
<path d="M513.95,205.75 L520.45,205.75 L517.2,211.65 Z" fill="#10a862"/>
<path d="M520.15,207.45 L526.65,207.45 L523.4,213.35 Z" fill="#10a862"/>
<path d="M525.85,209.15 L532.35,209.15 L529.1,215.05 Z" fill="#10a862"/>
<path d="M530.75,211.05 L537.25,211.05 L534,216.95 Z" fill="#10a862"/>
<path d="M535.05,213.05 L541.55,213.05 L538.3,218.95 Z" fill="#10a862"/>
<path d="M537.91,214.56 L544.41,214.56 L541.16,220.46 Z" fill="#10a862"/>
<path d="M540.8,216.02 L547.3,216.02 L544.05,221.92 Z" fill="#10a862"/>
<path d="M543.73,217.4 L550.23,217.4 L546.98,223.3 Z" fill="#10a862"/>
<path d="M546.72,218.65 L553.22,218.65 L549.97,224.55 Z" fill="#10a862"/>
<path d="M549.76,219.76 L556.26,219.76 L553.01,225.66 Z" fill="#10a862"/>
<path d="M552.85,220.74 L559.35,220.74 L556.1,226.64 Z" fill="#10a862"/>
<path d="M555.97,221.58 L562.47,221.58 L559.22,227.48 Z" fill="#10a862"/>
<path d="M559.12,222.35 L565.62,222.35 L562.37,228.25 Z" fill="#10a862"/>
<path d="M562.27,223.09 L568.77,223.09 L565.52,228.99 Z" fill="#10a862"/>
<path d="M565.43,223.81 L571.93,223.81 L568.68,229.71 Z" fill="#10a862"/>
<path d="M568.6,224.45 L575.1,224.45 L571.85,230.35 Z" fill="#10a862"/>
<path d="M571.8,224.91 L578.3,224.91 L575.05,230.81 Z" fill="#10a862"/>
<path d="M575.03,225.22 L581.53,225.22 L578.28,231.12 Z" fill="#10a862"/>
<path d="M578.26,225.43 L584.76,225.43 L581.51,231.33 Z" fill="#10a862"/>
<path d="M581.49,225.62 L587.99,225.62 L584.74,231.52 Z" fill="#10a862"/>
<path d="M584.73,225.77 L591.23,225.77 L587.98,231.67 Z" fill="#10a862"/>
<path d="M587.96,225.87 L594.46,225.87 L591.21,231.77 Z" fill="#10a862"/>
<path d="M591.2,225.9 L597.7,225.9 L594.45,231.8 Z" fill="#10a862"/>
<path d="M594.44,225.85 L600.94,225.85 L597.69,231.75 Z" fill="#10a862"/>
<path d="M597.67,225.72 L604.17,225.72 L600.92,231.62 Z" fill="#10a862"/>
<path d="M600.9,225.54 L607.4,225.54 L604.15,231.44 Z" fill="#10a862"/>
<path d="M604.13,225.34 L610.63,225.34 L607.38,231.24 Z" fill="#10a862"/>
<path d="M607.36,225.13 L613.86,225.13 L610.61,231.03 Z" fill="#10a862"/>
<path d="M610.59,224.92 L617.09,224.92 L613.84,230.82 Z" fill="#10a862"/>
<path d="M613.82,224.69 L620.32,224.69 L617.07,230.59 Z" fill="#10a862"/>
<path d="M617.05,224.45 L623.55,224.45 L620.3,230.35 Z" fill="#10a862"/>
</g>
<rect x="543.85" y="24.25" width="5.3" height="5.3" fill="#454545"/>
<text transform="translate(564.8,31.6) scale(0.878,1)" font-size="14.8" text-anchor="start" fill="#111" font-family='"Liberation Serif", serif' >SPCE</text>
<circle cx="546.4" cy="43.2" r="3.0" fill="#f43838"/>
<text transform="translate(564.8,47.8) scale(0.878,1)" font-size="14.8" text-anchor="start" fill="#111" font-family='"Liberation Serif", serif' >AgNWs@SPCE</text>
<path d="M543.1,62.2 L549.7,62.2 L546.4,56.2 Z" fill="#166ae6"/>
<text transform="translate(564.8,64) scale(0.878,1)" font-size="14.8" text-anchor="start" fill="#111" font-family='"Liberation Serif", serif' >ZIF&#8722;67@SPCE</text>
<path d="M543.1,73.2 L549.7,73.2 L546.4,79.2 Z" fill="#10a862"/>
<text transform="translate(568.3,80.4) scale(0.878,1)" font-size="14.8" text-anchor="start" fill="#111" font-family='"Liberation Serif", serif' >ZIF&#8722;67/AgNWs@SPCE</text>
<g fill="none" stroke="#111" stroke-width="1.3" stroke-linejoin="miter" stroke-miterlimit="10">
<path d="M511.3,104.4 L535.2,104.4 L539,107.6 L545.3,101.4 L551.9,107.6 L558.5,101.4 L561.6,104.4 L593.4,104.4 L597.2,107.6 L603.4,101.4 L610,107.6 L616.6,101.4 L619.75,104.4 L646.9,104.4"/>
<path d="M646.6,103.6 L649.4,107.2 L651.2,104.1 L653.5,107.2 L656.3,103.4"/>
<path d="M656.4,104.4 L691.3,104.4 M674.8,104.4 L674.8,123.6 L611,123.6 M584,104.4 L584,123.6 L604,123.6"/>
<path d="M600.2,120.4 L604,123.6 L600.2,126.9 M607.2,120.4 L611,123.6 L607.2,126.9"/>
</g>
<circle cx="659.1" cy="107.1" r="1.25" fill="none" stroke="#111" stroke-width="0.85"/>
<circle cx="584" cy="104.4" r="3.1" fill="#111"/>
<text x="548.4" y="98.7" font-size="6.6" text-anchor="middle" fill="#1a1a2a" font-family='"Liberation Sans", sans-serif' font-weight="bold" textLength="7" lengthAdjust="spacingAndGlyphs" >R1</text>
<text x="607.1" y="98.7" font-size="6.6" text-anchor="middle" fill="#1a1a2a" font-family='"Liberation Sans", sans-serif' font-weight="bold" textLength="8" lengthAdjust="spacingAndGlyphs" >R2</text>
<text x="651.6" y="98.7" font-size="6.6" text-anchor="middle" fill="#1a1a2a" font-family='"Liberation Sans", sans-serif' font-weight="bold" textLength="9.4" lengthAdjust="spacingAndGlyphs" >W1</text>
<text x="606.8" y="118.1" font-size="6.6" text-anchor="middle" fill="#1a1a2a" font-family='"Liberation Sans", sans-serif' font-weight="bold" textLength="16.6" lengthAdjust="spacingAndGlyphs" >CPE1</text>
</svg>
</body></html>
